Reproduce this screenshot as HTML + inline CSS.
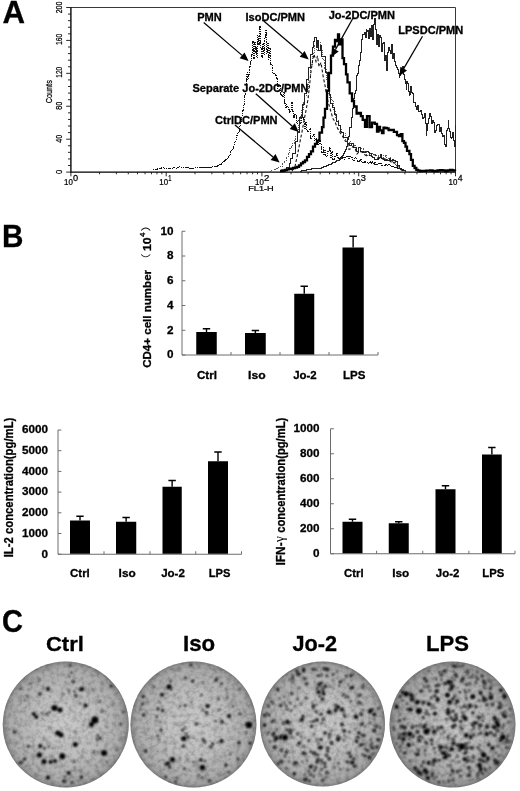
<!DOCTYPE html>
<html lang="en"><head><meta charset="utf-8"><title>Figure</title>
<style>
html,body{margin:0;padding:0;background:#fff;}
body{width:520px;height:791px;overflow:hidden;}
svg{display:block;}
text{font-family:"Liberation Sans", sans-serif;fill:#000;}
.b{font-weight:bold;stroke:#000;stroke-width:0.3px;}
.n{stroke:#000;stroke-width:0.25px;}
.cj{font-family:"Liberation Sans","Noto Sans CJK SC",sans-serif;}
</style></head><body>
<svg width="520" height="791" viewBox="0 0 520 791">
<defs>
<filter id="bl" x="-5%" y="-5%" width="110%" height="110%"><feGaussianBlur stdDeviation="0.8"/></filter>
<filter id="bl2" x="-5%" y="-5%" width="110%" height="110%"><feGaussianBlur stdDeviation="0.8"/></filter>
<filter id="bl3" x="-5%" y="-5%" width="110%" height="110%"><feGaussianBlur stdDeviation="0.8"/></filter>
<filter id="noise0" x="0" y="0" width="100%" height="100%"><feTurbulence type="fractalNoise" baseFrequency="0.22" numOctaves="3" seed="3" result="t"/><feColorMatrix in="t" type="matrix" values="0 0 0 0 0  0 0 0 0 0  0 0 0 0 0  1.4 0 0 0 -0.55"/></filter>
<filter id="noise1" x="0" y="0" width="100%" height="100%"><feTurbulence type="fractalNoise" baseFrequency="0.22" numOctaves="3" seed="11" result="t"/><feColorMatrix in="t" type="matrix" values="0 0 0 0 0  0 0 0 0 0  0 0 0 0 0  1.4 0 0 0 -0.55"/></filter>
<filter id="soft"><feGaussianBlur stdDeviation="0.3"/></filter>
<radialGradient id="wg" cx="50%" cy="50%" r="50%">
<stop offset="0" stop-color="#c9c9c9"/><stop offset="0.5" stop-color="#bebebe"/><stop offset="0.88" stop-color="#ababab"/><stop offset="0.96" stop-color="#9a9a9a"/><stop offset="1" stop-color="#858585"/>
</radialGradient>
<radialGradient id="wg2" cx="50%" cy="50%" r="50%">
<stop offset="0" stop-color="#c4c4c4"/><stop offset="0.5" stop-color="#b8b8b8"/><stop offset="0.88" stop-color="#a4a4a4"/><stop offset="0.96" stop-color="#929292"/><stop offset="1" stop-color="#7e7e7e"/>
</radialGradient>
</defs>
<rect width="520" height="791" fill="#fff"/>

<text class="b" transform="translate(2.42,23.40) scale(1.0021,1)" font-size="31.13" >A</text>
<text class="b" transform="translate(2.10,247.20) scale(0.9577,1)" font-size="30.98" >B</text>
<text class="b" transform="translate(2.04,632.08) scale(0.9121,1)" font-size="31.80" >C</text>
<g id="panelA">
<path d="M70.9,7.5H455.5V172.1" fill="none" stroke="#222" stroke-width="0.9"/>
<path d="M70.9,7.2V172.1H456.0" fill="none" stroke="#000" stroke-width="1.35"/>
<path d="M66.2,172.10H70.9" stroke="#111" stroke-width="0.9"/>
<path d="M68.0,165.52H70.9" stroke="#111" stroke-width="0.9"/>
<path d="M68.0,158.93H70.9" stroke="#111" stroke-width="0.9"/>
<path d="M68.0,152.35H70.9" stroke="#111" stroke-width="0.9"/>
<path d="M68.0,145.76H70.9" stroke="#111" stroke-width="0.9"/>
<path d="M66.2,139.18H70.9" stroke="#111" stroke-width="0.9"/>
<path d="M68.0,132.60H70.9" stroke="#111" stroke-width="0.9"/>
<path d="M68.0,126.01H70.9" stroke="#111" stroke-width="0.9"/>
<path d="M68.0,119.43H70.9" stroke="#111" stroke-width="0.9"/>
<path d="M68.0,112.84H70.9" stroke="#111" stroke-width="0.9"/>
<path d="M66.2,106.26H70.9" stroke="#111" stroke-width="0.9"/>
<path d="M68.0,99.68H70.9" stroke="#111" stroke-width="0.9"/>
<path d="M68.0,93.09H70.9" stroke="#111" stroke-width="0.9"/>
<path d="M68.0,86.51H70.9" stroke="#111" stroke-width="0.9"/>
<path d="M68.0,79.92H70.9" stroke="#111" stroke-width="0.9"/>
<path d="M66.2,73.34H70.9" stroke="#111" stroke-width="0.9"/>
<path d="M68.0,66.76H70.9" stroke="#111" stroke-width="0.9"/>
<path d="M68.0,60.17H70.9" stroke="#111" stroke-width="0.9"/>
<path d="M68.0,53.59H70.9" stroke="#111" stroke-width="0.9"/>
<path d="M68.0,47.00H70.9" stroke="#111" stroke-width="0.9"/>
<path d="M66.2,40.42H70.9" stroke="#111" stroke-width="0.9"/>
<path d="M68.0,33.84H70.9" stroke="#111" stroke-width="0.9"/>
<path d="M68.0,27.25H70.9" stroke="#111" stroke-width="0.9"/>
<path d="M68.0,20.67H70.9" stroke="#111" stroke-width="0.9"/>
<path d="M68.0,14.08H70.9" stroke="#111" stroke-width="0.9"/>
<path d="M66.2,7.50H70.9" stroke="#111" stroke-width="0.9"/>
<path d="M70.90,172.1V176.29999999999998" stroke="#111" stroke-width="0.9"/>
<path d="M99.59,172.1V174.29999999999998" stroke="#111" stroke-width="0.9"/>
<path d="M116.37,172.1V174.29999999999998" stroke="#111" stroke-width="0.9"/>
<path d="M128.28,172.1V174.29999999999998" stroke="#111" stroke-width="0.9"/>
<path d="M137.51,172.1V174.29999999999998" stroke="#111" stroke-width="0.9"/>
<path d="M145.06,172.1V174.29999999999998" stroke="#111" stroke-width="0.9"/>
<path d="M151.44,172.1V174.29999999999998" stroke="#111" stroke-width="0.9"/>
<path d="M156.96,172.1V174.29999999999998" stroke="#111" stroke-width="0.9"/>
<path d="M161.84,172.1V174.29999999999998" stroke="#111" stroke-width="0.9"/>
<path d="M166.20,172.1V176.29999999999998" stroke="#111" stroke-width="0.9"/>
<path d="M195.01,172.1V174.29999999999998" stroke="#111" stroke-width="0.9"/>
<path d="M211.86,172.1V174.29999999999998" stroke="#111" stroke-width="0.9"/>
<path d="M223.82,172.1V174.29999999999998" stroke="#111" stroke-width="0.9"/>
<path d="M233.09,172.1V174.29999999999998" stroke="#111" stroke-width="0.9"/>
<path d="M240.67,172.1V174.29999999999998" stroke="#111" stroke-width="0.9"/>
<path d="M247.08,172.1V174.29999999999998" stroke="#111" stroke-width="0.9"/>
<path d="M252.63,172.1V174.29999999999998" stroke="#111" stroke-width="0.9"/>
<path d="M257.52,172.1V174.29999999999998" stroke="#111" stroke-width="0.9"/>
<path d="M261.90,172.1V176.29999999999998" stroke="#111" stroke-width="0.9"/>
<path d="M291.04,172.1V174.29999999999998" stroke="#111" stroke-width="0.9"/>
<path d="M308.09,172.1V174.29999999999998" stroke="#111" stroke-width="0.9"/>
<path d="M320.18,172.1V174.29999999999998" stroke="#111" stroke-width="0.9"/>
<path d="M329.56,172.1V174.29999999999998" stroke="#111" stroke-width="0.9"/>
<path d="M337.23,172.1V174.29999999999998" stroke="#111" stroke-width="0.9"/>
<path d="M343.71,172.1V174.29999999999998" stroke="#111" stroke-width="0.9"/>
<path d="M349.32,172.1V174.29999999999998" stroke="#111" stroke-width="0.9"/>
<path d="M354.27,172.1V174.29999999999998" stroke="#111" stroke-width="0.9"/>
<path d="M358.70,172.1V176.29999999999998" stroke="#111" stroke-width="0.9"/>
<path d="M387.84,172.1V174.29999999999998" stroke="#111" stroke-width="0.9"/>
<path d="M404.89,172.1V174.29999999999998" stroke="#111" stroke-width="0.9"/>
<path d="M416.98,172.1V174.29999999999998" stroke="#111" stroke-width="0.9"/>
<path d="M426.36,172.1V174.29999999999998" stroke="#111" stroke-width="0.9"/>
<path d="M434.03,172.1V174.29999999999998" stroke="#111" stroke-width="0.9"/>
<path d="M440.51,172.1V174.29999999999998" stroke="#111" stroke-width="0.9"/>
<path d="M446.12,172.1V174.29999999999998" stroke="#111" stroke-width="0.9"/>
<path d="M451.07,172.1V174.29999999999998" stroke="#111" stroke-width="0.9"/>
<path d="M455.5,172.1V176.29999999999998" stroke="#111" stroke-width="0.9"/>
<text class="n" transform="translate(62.40,13.35) rotate(-90) scale(0.7139,1)" font-size="9.75" >200</text>
<text class="n" transform="translate(62.40,45.01) rotate(-90) scale(0.6990,1)" font-size="9.75" >160</text>
<text class="n" transform="translate(62.40,77.69) rotate(-90) scale(0.6726,1)" font-size="9.75" >120</text>
<text class="n" transform="translate(62.40,109.81) rotate(-90) scale(0.7466,1)" font-size="9.75" >80</text>
<text class="n" transform="translate(62.40,142.76) rotate(-90) scale(0.7324,1)" font-size="9.75" >40</text>
<text class="n" transform="translate(62.40,174.00) rotate(-90) scale(0.7730,1)" font-size="9.75" >0</text>
<text class="n" transform="translate(52.10,103.37) rotate(-90) scale(0.7410,1)" font-size="9.89" >Counts</text>
<text class="n" transform="translate(64.01,185.11) scale(0.8894,1)" font-size="8.90" >10</text>
<text class="n" transform="translate(73.03,181.01) scale(1.0515,1)" font-size="8.76" >0</text>
<text class="n" transform="translate(159.31,185.11) scale(0.8894,1)" font-size="8.90" >10</text>
<text class="n" transform="translate(168.27,181.10) scale(0.6410,1)" font-size="9.02" >1</text>
<text class="n" transform="translate(255.01,185.11) scale(0.8894,1)" font-size="8.90" >10</text>
<text class="n" transform="translate(263.92,181.10) scale(1.0879,1)" font-size="8.89" >2</text>
<text class="n" transform="translate(351.81,185.11) scale(0.8894,1)" font-size="8.90" >10</text>
<text class="n" transform="translate(360.85,181.01) scale(1.0570,1)" font-size="8.76" >3</text>
<text class="n" transform="translate(448.61,185.11) scale(0.8894,1)" font-size="8.90" >10</text>
<text class="n" transform="translate(457.80,181.10) scale(0.9661,1)" font-size="9.02" >4</text>
<text class="n" transform="translate(248.24,191.40) scale(1.1696,1)" font-size="7.85" >FL1-H</text>
</g>
<g id="curves" fill="none" stroke-linejoin="miter">
<path d="M153.0,169.9H154.0V169.8H155.0V169.5H156.0V169.1H157.0V168.9H158.0V168.6H159.0V168.4H160.0V168.1H161.0V167.9H162.0V167.9H163.0V168.3H164.0V168.2H165.0V168.4H166.0V168.1H167.0V168.3H168.0V168.5H169.0V168.3H170.0V168.7H171.0V168.5H172.0V168.0H173.0V167.8H174.0V167.9H175.0V168.0H176.0V167.5H177.0V167.3H178.0V167.3H179.0V166.9H180.0V166.8H181.0V167.1H182.0V167.2H183.0V167.1H184.0V167.2H185.0V167.3H186.0V167.6H187.0V167.6H188.0V167.6H189.0V168.1H190.0V168.0H191.0V168.0H192.0V167.6H193.0V168.0H194.0V167.8H195.0V167.3H196.0V167.3H197.0V167.4H198.0V167.3H199.0V167.4H200.0V167.0H201.0V167.3H202.0V167.2H203.0V167.0H204.0V167.3H205.0V167.5H206.0V167.5H207.0V167.4H208.0V167.5H209.0V167.2H210.0V167.4H211.0V167.4H212.0V166.9H213.0V166.5H214.0V166.5H215.0V166.4H216.0V166.1H217.0V165.4H218.0V164.9H219.0V164.5H220.0V164.3H221.0V163.2H222.0V162.3H223.0V161.6H224.0V160.2H225.0V159.3H226.0V159.1H227.0V158.3H228.0V156.4H229.0V154.8H230.0V151.9H231.0V150.3H232.0V149.4H233.0V146.1H234.0V142.8H235.0V141.1H236.0V135.9H237.0V133.4H238.0V131.4H239.0V126.2H240.0V121.9H241.0V117.3H242.0V110.1H243.0V104.9H244.0V95.5H244.8V94.5H245.5V90.2H246.5V72.7H247.5V79.7H248.2V74.2H249.0V66.1H250.0V60.9H251.0V54.5H252.0V41.9H253.0V58.6H254.0V42.5H255.0V52.9H256.0V47.0H256.7V57.9H257.5V35.0H258.3V44.9H259.5V26.3H260.5V48.9H261.5V57.8H262.5V43.7H263.5V54.7H264.5V38.1H265.3V29.7H266.2V53.6H267.0V42.5H268.0V59.1H269.0V48.1H270.0V64.2H271.0V64.3H272.0V72.4H273.0V74.2H274.0V73.1H275.0V75.6H276.0V78.6H277.0V88.1H278.0V85.0H279.0V85.8H280.0V94.5H281.0V95.6H282.0V96.8H283.0V91.9H284.0V103.8H285.0V107.0H286.0V104.8H287.0V106.5H288.0V109.0H289.0V112.9H290.0V111.2H291.0V102.3H292.0V111.6H293.0V117.1H294.0V114.6H295.0V114.0H296.0V123.8H297.0V121.6H298.0V120.5H299.0V123.3H300.0V123.8H301.0V115.6H302.0V116.9H303.0V119.8H304.0V128.0H305.0V122.6H306.0V130.5H307.0V131.5H308.0V131.2H309.0V128.6H310.0V138.7H311.0V137.6H312.0V135.9H313.0V134.0H314.0V140.8H315.0V138.7H316.0V141.9H317.0V139.9H318.0V144.9H319.0V139.4H320.0V143.6H321.0V152.9H322.0V152.9H323.0V147.9H323.9V154.4H324.8V149.6H325.6V156.4H326.5V155.2H327.8V151.2H329.0V148.5H329.9V147.9H330.9V157.3H331.8V151.8H332.7V159.3H333.8V159.8H334.9V156.2H336.0V153.4H337.0V157.4H338.0V158.4H339.0V157.9H340.0V157.7H341.0V157.9H342.0V158.4H343.0V157.6H344.0V159.1H345.0V157.9H346.0V156.6H347.0V156.0H348.0V158.0H349.0V156.1H350.0V157.4H351.0V157.2H352.0V159.7H353.0V160.2H354.0V157.4H355.0V158.5H356.0V159.4H357.0V161.8H358.0V161.3H359.0V160.1H360.0V159.9H361.0V161.5H362.0V162.2H363.0V162.7H364.0V161.1H365.0V162.9H366.0V162.5H367.0V162.1H368.0V163.7H369.0V161.8H370.0V163.3H371.0V161.8H372.0V162.2H373.0V164.2H374.0V162.6H375.0V164.1H376.0V163.9H377.0V164.6H378.0V163.7H379.0V163.8H380.0V163.8H381.0V165.2H382.0V164.8H383.0V165.7H384.0V165.6H385.0V164.3H386.0V165.2H387.0V164.5H388.0V164.6H389.0V164.8H390.0V166.4H391.0V166.4H392.0V166.6H393.0V166.2H394.0V167.0H395.0V167.7H396.0V167.6H397.0V168.2H398.0V168.3H399.0V168.6H400.0V169.3H401.0V170.2H402.0V170.5H403.0V171.0" stroke="#111" stroke-width="1" stroke-dasharray="1.4 0.9" shape-rendering="crispEdges"/>
<path d="M270.0,171.1H271.7V170.5H273.3V169.5H275.0V168.8H276.7V168.4H278.3V167.5H280.0V166.7H282.0V163.5H284.0V161.2H286.0V157.3H288.0V153.2H289.6V148.6H291.1V146.4H292.7V143.1H294.1V139.9H295.6V136.5H297.0V131.8H298.5V123.7H300.0V116.8H301.5V109.6H303.0V102.1H304.8V95.1H306.5V89.9H308.0V77.3H310.0V64.5H312.0V53.6H314.0V45.1H316.0V50.2H318.0V42.9H320.0V50.1H322.0V59.3H324.0V68.5H326.0V80.0H328.0V94.0H329.5V97.7H331.0V100.7H333.0V110.6H335.0V117.2H336.7V120.9H338.3V125.6H340.0V129.1H341.7V132.5H343.3V133.6H345.0V141.4H347.0V144.2H349.0V141.6H350.5V144.8H352.0V143.5H353.9V145.2H355.8V149.2H357.9V147.9H360.0V150.0H361.5V148.8H363.0V152.5H364.5V151.4H366.0V155.9H367.5V155.6H369.0V152.8H370.5V152.9H372.0V154.4H373.5V154.6H375.0V154.7H376.5V155.0H378.0V156.9H379.8V158.0H381.5V155.4H383.2V158.2H385.0V155.0H386.8V159.0H388.5V157.8H390.2V161.3H392.0V161.6H393.8V162.8H395.5V164.5H397.2V166.5H399.0V168.1H400.8V169.2H402.5V170.6" stroke="#555" stroke-width="1" stroke-dasharray="1 1" shape-rendering="crispEdges"/>
<path d="M283.0,171.0H284.8V169.5H286.5V167.9H289.0V163.1H290.9V158.7H292.7V153.1H295.0V141.5H297.0V132.0H299.5V117.3H302.0V104.2H304.0V93.5H306.0V79.9H308.0V67.0H310.0V54.9H312.0V47.4H313.0V41.0H314.5V37.9H316.0V47.1H317.0V40.1H318.5V50.7H320.0V45.5H321.5V56.7H323.0V56.8H325.0V72.3H327.0V87.4H329.0V94.6H330.5V103.1H332.0V107.9H334.0V114.7H336.0V121.1H338.0V125.6H340.0V131.3H341.7V132.4H343.3V137.4H345.0V137.6H347.0V143.5H349.0V145.7H351.0V143.7H353.0V147.7H354.7V147.5H356.3V151.7H358.0V147.6H360.0V151.3H362.0V151.9H363.5V152.8H365.0V151.9H366.5V151.4H368.0V152.5H369.5V153.9H371.0V156.9H372.5V157.3H374.0V159.7H375.5V159.0H377.0V159.1H378.5V157.2H380.0V154.5H381.5V158.5H383.0V159.8H384.5V160.5H386.0V160.2H387.5V160.5H389.0V158.5H390.5V160.4H392.0V159.3H393.7V160.3H395.3V161.9H397.0V165.7H399.0V168.1H401.0V169.8H403.0V170.9H405.0V171.5" stroke="#222" stroke-width="1" shape-rendering="crispEdges"/>
<path d="M292.0,171.0L293.5,168.6L295.0,166.5L296.5,159.4L298.0,152.3L300.0,141.8L302.0,131.8L304.0,120.6L306.0,110.5L308.0,99.4L309.6,85.1L311.0,71.6L312.5,61.3L314.0,54.2L316.0,61.4L317.5,55.9L319.0,66.7L321.0,62.6L323.0,75.6L325.0,85.4L327.0,97.6L328.5,103.3L330.0,108.5L331.5,113.7L333.0,118.8L335.0,121.7L337.0,127.2L339.0,130.8L341.0,134.0L343.0,136.9L345.0,140.8L347.0,141.5L349.0,149.6L351.0,148.7L353.0,146.3L355.0,147.9L357.0,154.0L359.5,151.4L362.0,152.0L364.5,154.6L367.0,156.0L369.0,155.3L371.0,155.7L373.0,154.7L374.8,154.7L376.5,156.3L378.2,159.1L380.0,157.6L381.8,157.9L383.5,159.9L385.2,159.1L387.0,160.1L388.8,160.7L390.5,161.1L392.2,163.4L394.0,162.3L396.5,165.4L399.0,167.7L401.0,169.6L403.0,171.0" stroke="#111" stroke-width="1.1" stroke-dasharray="3 2"/>
<path d="M300.0,171.0H301.0V170.8H302.0V170.7H303.0V170.5H304.0V170.3H305.0V170.2H306.0V169.8H307.0V169.7H308.0V169.6H309.0V169.4H310.0V169.3H311.0V168.9H312.0V168.9H313.0V168.7H314.0V168.7H315.0V168.6H316.0V168.3H317.0V168.2H318.0V168.2H319.0V168.2H320.0V168.1H321.1V167.5H322.2V167.4H323.2V166.9H324.3V166.7H325.4V166.2H326.5V165.8H327.4V165.7H328.4V164.8H329.3V164.3H330.2V164.3H331.2V163.8H332.1V162.8H333.1V162.9H334.0V162.0H335.0V161.7H336.0V160.7H337.0V160.9H338.0V160.2H339.0V159.5H340.0V158.4H341.0V156.8H342.0V155.8H343.0V153.5H344.0V151.4H345.0V149.2H346.0V146.6H347.0V144.2H347.8V139.0H348.5V136.4H349.7V127.7H351.0V117.6H352.3V108.1H353.5V98.0H354.2V93.6H355.0V90.0H356.0V80.4H356.8V75.1H357.5V73.0H358.2V65.0H359.0V60.5H360.0V52.7H361.0V41.0H361.8V39.1H362.5V34.7H363.2V34.2H364.0V32.0H365.0V37.1H366.0V29.4H366.8V31.4H367.5V30.4H368.5V38.5H369.5V28.9H370.5V36.9H371.5V25.7H372.5V39.7H373.5V24.0H374.0V18.6H375.0V29.2H376.0V44.5H377.0V34.6H378.0V46.7H379.0V35.1H380.0V37.9H381.0V51.2H382.0V43.7H383.0V42.2H384.0V60.8H385.0V55.7H386.0V70.8H387.0V58.1H387.8V52.6H388.5V47.6H389.2V50.4H390.0V53.2H391.0V44.3H392.0V58.4H393.0V53.0H394.0V59.3H394.8V61.1H395.5V65.0H396.2V67.1H397.0V69.8H398.0V73.0H399.0V77.2H399.8V75.2H400.5V71.9H401.5V69.3H402.5V66.1H403.2V74.3H404.0V79.1H405.0V83.5H406.0V89.7H406.8V81.5H407.5V83.9H408.2V91.6H409.0V95.0H409.8V94.3H410.5V86.9H411.5V92.5H412.5V93.2H413.2V102.8H414.0V102.4H415.0V106.6H416.0V109.0H417.0V105.8H418.0V111.3H419.0V111.6H420.0V110.9H421.0V111.8H421.8V114.8H422.5V118.3H423.2V117.2H424.0V113.2H425.0V123.0H426.0V135.9H426.8V130.7H427.5V123.0H428.2V118.5H429.0V113.7H430.0V116.2H431.0V122.2H431.8V123.3H432.5V120.9H433.2V122.9H434.0V132.3H435.0V130.2H436.0V127.6H436.8V125.3H437.5V124.1H438.2V124.9H439.0V131.6H440.0V127.2H441.0V127.9H441.8V133.7H442.5V136.5H443.2V135.9H444.0V143.6H444.8V144.2H445.5V146.6H446.5V130.1H447.2V128.4H448.0V120.0H448.8V128.4H449.5V131.7H450.2V137.0H451.0V138.2H451.8V137.9H452.5V132.8H453.5V140.7H454.5V146.9H455.0V125.0" stroke="#222" stroke-width="1" shape-rendering="crispEdges"/>
<path d="M280.0,171.0H282.5V170.5H285.0V170.0H287.0V169.4H289.0V168.9H291.0V168.6H293.0V168.0H295.0V167.6H297.0V166.9H299.0V165.4H301.0V163.3H303.0V162.0H305.0V160.3H307.0V156.9H309.0V154.1H311.0V151.4H313.0V146.6H315.0V143.8H317.0V140.7H319.5V132.7H322.0V127.2H323.5V117.7H325.0V108.8H327.0V90.6H329.0V73.0H331.0V55.7H333.0V46.7H335.0V39.9H336.0V41.0H338.0V34.3H339.0V44.3H340.5V39.5H342.5V58.1H344.0V64.2H346.0V74.3H347.5V82.4H349.7V93.3H352.0V101.0H354.0V106.5H356.6V113.6H359.0V112.9H360.9V116.2H362.7V119.8H365.0V126.9H367.0V116.2H369.6V127.2H372.0V122.6H374.8V123.8H377.0V131.5H378.5V127.0H380.0V130.3H382.0V133.2H383.5V127.7H385.0V128.0H386.8V128.4H388.6V130.2H391.0V129.9H393.8V131.8H395.4V131.8H397.0V135.2H398.9V136.2H400.7V134.1H402.4V141.2H404.0V142.8H405.5V146.6H407.0V150.9H409.4V154.2H411.0V159.8H412.8V165.9H414.6V168.0H416.3V169.9H418.1V170.6H420.0V171.0H422.0V170.9H424.0V170.8H426.0V170.7H428.0V170.7H430.0V170.5H432.5V170.8H435.0V171.0H437.5V170.5H440.0V170.1H442.5V170.5H445.0V171.0H447.5V170.5H450.0V170.0H452.5V170.5H455.0V171.0" stroke="#000" stroke-width="2.3"/>
</g>
<g id="labelsA">
<text class="b" x="197.2" y="20.7" font-size="11.05">PMN</text>
<text class="b" x="245.5" y="20.7" font-size="11.05">IsoDC/PMN</text>
<text class="b" x="328.7" y="18.5" font-size="11.05">Jo-2DC/PMN</text>
<text class="b" x="398.2" y="34" font-size="11.05">LPSDC/PMN</text>
<text class="b" x="192.5" y="92" font-size="11.05">Separate Jo-2DC/PMN</text>
<text class="b" x="215" y="123.75" font-size="11.05">CtrlDC/PMN</text>
<path d="M203.7,22.5L242.1,55.4" stroke="#000" stroke-width="1.25" fill="none"/><path d="M248.6,61.0L239.6,58.3L244.5,52.5Z" fill="#000"/>
<path d="M263.7,21.0L302.2,53.8" stroke="#000" stroke-width="1.25" fill="none"/><path d="M308.7,59.4L299.7,56.7L304.6,50.9Z" fill="#000"/>
<path d="M352.5,19.0L335.4,49.6" stroke="#000" stroke-width="1.25" fill="none"/><path d="M331.2,57.1L332.1,47.7L338.7,51.4Z" fill="#000"/>
<path d="M422.5,36.2L403.7,68.6" stroke="#000" stroke-width="1.25" fill="none"/><path d="M399.4,76.0L400.4,66.7L407.0,70.5Z" fill="#000"/>
<path d="M255.8,93.8L292.3,126.2" stroke="#000" stroke-width="1.25" fill="none"/><path d="M298.7,131.9L289.7,129.0L294.8,123.3Z" fill="#000"/>
<path d="M235.0,125.0L273.0,157.0" stroke="#000" stroke-width="1.25" fill="none"/><path d="M279.6,162.5L270.6,159.9L275.5,154.1Z" fill="#000"/>
</g>
<g id="chart1">
<path d="M182,231.25V355H378" fill="none" stroke="#6c6c6c" stroke-width="1"/>
<path d="M182,231.25h3.4" stroke="#6c6c6c" stroke-width="1"/>
<text class="b" x="173.4" y="234.6" text-anchor="end" font-size="11.7">10</text>
<path d="M182,256h3.4" stroke="#6c6c6c" stroke-width="1"/>
<text class="b" x="173.4" y="259.3" text-anchor="end" font-size="11.7">8</text>
<path d="M182,280.75h3.4" stroke="#6c6c6c" stroke-width="1"/>
<text class="b" x="173.4" y="284.1" text-anchor="end" font-size="11.7">6</text>
<path d="M182,305.5h3.4" stroke="#6c6c6c" stroke-width="1"/>
<text class="b" x="173.4" y="308.8" text-anchor="end" font-size="11.7">4</text>
<path d="M182,330.25h3.4" stroke="#6c6c6c" stroke-width="1"/>
<text class="b" x="173.4" y="333.6" text-anchor="end" font-size="11.7">2</text>
<path d="M182,355h3.4" stroke="#6c6c6c" stroke-width="1"/>
<text class="b" x="173.4" y="358.3" text-anchor="end" font-size="11.7">0</text>
<path d="M231,355v-3" stroke="#6c6c6c" stroke-width="1"/>
<path d="M280,355v-3" stroke="#6c6c6c" stroke-width="1"/>
<path d="M329,355v-3" stroke="#6c6c6c" stroke-width="1"/>
<path d="M378,355v-3" stroke="#6c6c6c" stroke-width="1"/>
<rect x="196.25" y="332" width="20.50" height="22.50" fill="#000"/>
<path d="M206.5,332V328.75M202.8,328.75H210.2" stroke="#000" stroke-width="1.4" fill="none"/>
<rect x="245" y="333" width="20.75" height="21.50" fill="#000"/>
<path d="M255.375,333V330.5M251.675,330.5H259.075" stroke="#000" stroke-width="1.4" fill="none"/>
<rect x="294.25" y="293.75" width="20.00" height="60.75" fill="#000"/>
<path d="M304.25,293.75V286.25M300.55,286.25H307.95" stroke="#000" stroke-width="1.4" fill="none"/>
<rect x="342.5" y="247.5" width="21.25" height="107.00" fill="#000"/>
<path d="M353.125,247.5V236.25M349.425,236.25H356.825" stroke="#000" stroke-width="1.4" fill="none"/>
<text class="b" transform="translate(196.93,378.55) scale(0.9965,1)" font-size="11.70">Ctrl</text>
<text class="b" transform="translate(248.08,378.55) scale(1.0397,1)" font-size="11.70">Iso</text>
<text class="b" transform="translate(293.13,378.55) scale(0.9786,1)" font-size="11.70">Jo-2</text>
<text class="b" transform="translate(343.02,378.55) scale(0.9861,1)" font-size="11.70">LPS</text>
<text class="b" transform="translate(151.08,367.86) rotate(-90) scale(0.9886,1)" font-size="11.70" >CD4+ cell number</text><text class="cj" transform="translate(149.66,266.21) rotate(-90) scale(1.2986,1)" font-size="9.87" >（</text><text class="b" transform="translate(151.10,250.97) rotate(-90) scale(1.1767,1)" font-size="10.46" >10</text><text class="b" transform="translate(145.00,236.71) rotate(-90) scale(0.9456,1)" font-size="7.71" >4</text><text class="cj" transform="translate(149.66,231.61) rotate(-90) scale(1.2986,1)" font-size="9.87" >）</text>
</g>
<g id="chart2">
<path d="M58,430V554.25H241.5" fill="none" stroke="#6c6c6c" stroke-width="1"/>
<path d="M58,430h3.4" stroke="#6c6c6c" stroke-width="1"/>
<text class="b" x="47.9" y="433.3" text-anchor="end" font-size="11.7">6000</text>
<path d="M58,450.7h3.4" stroke="#6c6c6c" stroke-width="1"/>
<text class="b" x="47.9" y="454.0" text-anchor="end" font-size="11.7">5000</text>
<path d="M58,471.4h3.4" stroke="#6c6c6c" stroke-width="1"/>
<text class="b" x="47.9" y="474.7" text-anchor="end" font-size="11.7">4000</text>
<path d="M58,492.1h3.4" stroke="#6c6c6c" stroke-width="1"/>
<text class="b" x="47.9" y="495.4" text-anchor="end" font-size="11.7">3000</text>
<path d="M58,512.8h3.4" stroke="#6c6c6c" stroke-width="1"/>
<text class="b" x="47.9" y="516.1" text-anchor="end" font-size="11.7">2000</text>
<path d="M58,533.5h3.4" stroke="#6c6c6c" stroke-width="1"/>
<text class="b" x="47.9" y="536.8" text-anchor="end" font-size="11.7">1000</text>
<path d="M58,554.25h3.4" stroke="#6c6c6c" stroke-width="1"/>
<text class="b" x="47.9" y="557.5" text-anchor="end" font-size="11.7">0</text>
<path d="M104,554.25v-3" stroke="#6c6c6c" stroke-width="1"/>
<path d="M150,554.25v-3" stroke="#6c6c6c" stroke-width="1"/>
<path d="M195.75,554.25v-3" stroke="#6c6c6c" stroke-width="1"/>
<path d="M241.5,554.25v-3" stroke="#6c6c6c" stroke-width="1"/>
<rect x="70" y="520.5" width="20.00" height="33.25" fill="#000"/>
<path d="M80.0,520.5V516.25M76.3,516.25H83.7" stroke="#000" stroke-width="1.4" fill="none"/>
<rect x="116" y="521.75" width="20.25" height="32.00" fill="#000"/>
<path d="M126.125,521.75V517.5M122.425,517.5H129.825" stroke="#000" stroke-width="1.4" fill="none"/>
<rect x="162.5" y="486.75" width="19.25" height="67.00" fill="#000"/>
<path d="M172.125,486.75V480.5M168.425,480.5H175.825" stroke="#000" stroke-width="1.4" fill="none"/>
<rect x="208" y="461.25" width="20.00" height="92.50" fill="#000"/>
<path d="M218.0,461.25V452M214.3,452H221.7" stroke="#000" stroke-width="1.4" fill="none"/>
<text class="b" transform="translate(70.04,577.05) scale(0.9806,1)" font-size="11.70">Ctrl</text>
<text class="b" transform="translate(118.60,577.05) scale(1.0142,1)" font-size="11.70">Iso</text>
<text class="b" transform="translate(161.13,577.05) scale(0.9872,1)" font-size="11.70">Jo-2</text>
<text class="b" transform="translate(208.75,577.05) scale(0.9535,1)" font-size="11.70">LPS</text>
<text class="b" transform="translate(12.80,557.36) rotate(-90) scale(0.8759,1)" font-size="12.94">IL-2 concentration(pg/mL)</text>
</g>
<g id="chart3">
<path d="M330.5,428.75V553.75H515" fill="none" stroke="#6c6c6c" stroke-width="1"/>
<path d="M330.5,428.75h3.4" stroke="#6c6c6c" stroke-width="1"/>
<text class="b" x="319.6" y="432.1" text-anchor="end" font-size="11.7">1000</text>
<path d="M330.5,453.75h3.4" stroke="#6c6c6c" stroke-width="1"/>
<text class="b" x="319.6" y="457.1" text-anchor="end" font-size="11.7">800</text>
<path d="M330.5,478.75h3.4" stroke="#6c6c6c" stroke-width="1"/>
<text class="b" x="319.6" y="482.1" text-anchor="end" font-size="11.7">600</text>
<path d="M330.5,503.75h3.4" stroke="#6c6c6c" stroke-width="1"/>
<text class="b" x="319.6" y="507.1" text-anchor="end" font-size="11.7">400</text>
<path d="M330.5,528.75h3.4" stroke="#6c6c6c" stroke-width="1"/>
<text class="b" x="319.6" y="532.0" text-anchor="end" font-size="11.7">200</text>
<path d="M330.5,553.75h3.4" stroke="#6c6c6c" stroke-width="1"/>
<text class="b" x="319.6" y="557.0" text-anchor="end" font-size="11.7">0</text>
<path d="M376.6,553.75v-3" stroke="#6c6c6c" stroke-width="1"/>
<path d="M422.75,553.75v-3" stroke="#6c6c6c" stroke-width="1"/>
<path d="M468.9,553.75v-3" stroke="#6c6c6c" stroke-width="1"/>
<path d="M515,553.75v-3" stroke="#6c6c6c" stroke-width="1"/>
<rect x="342.5" y="521.75" width="20.00" height="31.50" fill="#000"/>
<path d="M352.5,521.75V519.25M348.8,519.25H356.2" stroke="#000" stroke-width="1.4" fill="none"/>
<rect x="388.75" y="523.25" width="20.00" height="30.00" fill="#000"/>
<path d="M398.75,523.25V521.75M395.05,521.75H402.45" stroke="#000" stroke-width="1.4" fill="none"/>
<rect x="435.5" y="489.25" width="20.00" height="64.00" fill="#000"/>
<path d="M445.5,489.25V485.75M441.8,485.75H449.2" stroke="#000" stroke-width="1.4" fill="none"/>
<rect x="482" y="454.5" width="19.75" height="98.75" fill="#000"/>
<path d="M491.875,454.5V447.5M488.175,447.5H495.575" stroke="#000" stroke-width="1.4" fill="none"/>
<text class="b" transform="translate(344.05,577.05) scale(0.9700,1)" font-size="11.70">Ctrl</text>
<text class="b" transform="translate(392.20,577.05) scale(1.0078,1)" font-size="11.70">Iso</text>
<text class="b" transform="translate(435.83,577.05) scale(0.9744,1)" font-size="11.70">Jo-2</text>
<text class="b" transform="translate(482.24,577.05) scale(0.9675,1)" font-size="11.70">LPS</text>
<text class="b" transform="translate(285.30,565.50) rotate(-90) scale(0.9395,1)" font-size="12.65">IFN-</text><text transform="translate(284.0,541.9) rotate(-90) scale(0.95,1)" font-size="14" style="font-family:'Liberation Serif',serif">γ</text><text class="b" transform="translate(285.30,532.85) rotate(-90) scale(0.8865,1)" font-size="12.65">concentration(pg/mL)</text>
</g>
<g id="panelC">
<text class="b" transform="translate(45.92,650.79) scale(1.0537,1)" font-size="20.95" >Ctrl</text>
<text class="b" transform="translate(183.00,650.88) scale(1.0138,1)" font-size="21.94" >Iso</text>
<text class="b" transform="translate(292.58,650.88) scale(1.0011,1)" font-size="21.63" >Jo-2</text>
<text class="b" transform="translate(426.11,650.88) scale(1.0085,1)" font-size="21.91" >LPS</text>
<clipPath id="cp0"><circle cx="65.75" cy="724.5" r="63"/></clipPath>
<circle cx="65.75" cy="724.5" r="63" fill="url(#wg)"/>
<g clip-path="url(#cp0)">
<rect x="2.75" y="661.5" width="126" height="126" filter="url(#noise0)" opacity="0.3"/>
<g filter="url(#bl2)">
<circle cx="22.1" cy="738.0" r="1.24" fill="#7d7d7d"/>
<circle cx="11.8" cy="741.3" r="0.65" fill="#808080"/>
<circle cx="18.4" cy="731.8" r="0.65" fill="#7c7c7c"/>
<circle cx="59.7" cy="741.9" r="1.15" fill="#8c8c8c"/>
<circle cx="34.4" cy="689.2" r="0.82" fill="#7c7c7c"/>
<circle cx="38.5" cy="685.0" r="0.63" fill="#606060"/>
<circle cx="73.3" cy="711.1" r="0.53" fill="#6f6f6f"/>
<circle cx="22.1" cy="692.9" r="0.76" fill="#858585"/>
<circle cx="89.9" cy="687.7" r="1.01" fill="#7f7f7f"/>
<circle cx="83.6" cy="725.0" r="1.02" fill="#7a7a7a"/>
<circle cx="126.7" cy="723.6" r="1.17" fill="#8d8d8d"/>
<circle cx="64.4" cy="777.7" r="0.91" fill="#616161"/>
<circle cx="114.1" cy="747.3" r="0.82" fill="#727272"/>
<circle cx="20.5" cy="763.6" r="1.18" fill="#606060"/>
<circle cx="79.1" cy="781.8" r="0.54" fill="#787878"/>
<circle cx="104.0" cy="719.8" r="0.56" fill="#888888"/>
<circle cx="81.7" cy="772.1" r="0.77" fill="#737373"/>
<circle cx="36.0" cy="776.6" r="1.11" fill="#676767"/>
<circle cx="99.8" cy="763.0" r="0.51" fill="#7d7d7d"/>
<circle cx="73.3" cy="699.9" r="0.95" fill="#7c7c7c"/>
<circle cx="5.2" cy="721.1" r="1.12" fill="#7a7a7a"/>
<circle cx="52.8" cy="708.1" r="0.84" fill="#6d6d6d"/>
<circle cx="122.6" cy="724.7" r="1.28" fill="#858585"/>
<circle cx="46.6" cy="778.7" r="0.67" fill="#797979"/>
<circle cx="113.1" cy="723.3" r="0.96" fill="#626262"/>
<circle cx="93.9" cy="722.6" r="0.71" fill="#878787"/>
<circle cx="49.9" cy="753.8" r="0.56" fill="#656565"/>
<circle cx="78.3" cy="771.6" r="0.51" fill="#777777"/>
<circle cx="37.3" cy="754.2" r="1.27" fill="#7e7e7e"/>
<circle cx="76.9" cy="704.9" r="0.81" fill="#888888"/>
<circle cx="98.7" cy="772.5" r="1.15" fill="#6f6f6f"/>
<circle cx="62.0" cy="700.5" r="1.00" fill="#838383"/>
<circle cx="85.4" cy="780.7" r="1.21" fill="#868686"/>
<circle cx="77.5" cy="730.8" r="0.59" fill="#808080"/>
<circle cx="94.8" cy="717.6" r="1.06" fill="#707070"/>
<circle cx="14.7" cy="752.2" r="0.89" fill="#818181"/>
<circle cx="89.2" cy="770.8" r="0.56" fill="#6e6e6e"/>
<circle cx="16.8" cy="730.9" r="0.99" fill="#646464"/>
<circle cx="54.7" cy="782.0" r="0.66" fill="#616161"/>
<circle cx="101.3" cy="741.0" r="0.70" fill="#626262"/>
<circle cx="82.3" cy="757.7" r="0.96" fill="#686868"/>
<circle cx="84.8" cy="736.9" r="0.86" fill="#757575"/>
<circle cx="37.7" cy="682.1" r="0.97" fill="#686868"/>
<circle cx="16.1" cy="693.1" r="0.88" fill="#767676"/>
<circle cx="47.6" cy="667.4" r="0.52" fill="#888888"/>
<circle cx="79.9" cy="731.7" r="0.75" fill="#686868"/>
<circle cx="82.5" cy="724.4" r="0.94" fill="#8f8f8f"/>
<circle cx="122.6" cy="740.8" r="1.09" fill="#686868"/>
<circle cx="81.4" cy="668.2" r="0.78" fill="#8b8b8b"/>
<circle cx="49.0" cy="727.3" r="1.19" fill="#616161"/>
<circle cx="96.0" cy="689.5" r="1.00" fill="#787878"/>
<circle cx="60.8" cy="729.2" r="0.56" fill="#656565"/>
<circle cx="26.8" cy="677.7" r="1.20" fill="#8e8e8e"/>
<circle cx="37.2" cy="776.2" r="1.06" fill="#7d7d7d"/>
<circle cx="13.7" cy="744.9" r="0.57" fill="#909090"/>
<circle cx="31.9" cy="721.4" r="0.57" fill="#616161"/>
<circle cx="72.1" cy="775.2" r="0.90" fill="#878787"/>
<circle cx="42.9" cy="688.5" r="1.22" fill="#777777"/>
<circle cx="49.9" cy="772.3" r="0.66" fill="#6a6a6a"/>
<circle cx="66.6" cy="688.7" r="1.24" fill="#7f7f7f"/>
<circle cx="92.9" cy="702.5" r="1.03" fill="#6c6c6c"/>
<circle cx="29.3" cy="683.6" r="1.10" fill="#6c6c6c"/>
<circle cx="93.4" cy="698.6" r="0.97" fill="#747474"/>
<circle cx="71.3" cy="746.2" r="0.78" fill="#626262"/>
<circle cx="51.4" cy="666.7" r="0.72" fill="#6a6a6a"/>
<circle cx="97.6" cy="751.8" r="1.24" fill="#7a7a7a"/>
<circle cx="33.1" cy="754.1" r="1.04" fill="#8d8d8d"/>
<circle cx="97.9" cy="673.2" r="0.86" fill="#646464"/>
<circle cx="81.0" cy="696.1" r="0.99" fill="#8b8b8b"/>
<circle cx="53.9" cy="679.9" r="0.75" fill="#848484"/>
<circle cx="88.1" cy="727.2" r="0.86" fill="#616161"/>
<circle cx="69.5" cy="693.2" r="1.12" fill="#636363"/>
<circle cx="86.4" cy="722.4" r="0.59" fill="#828282"/>
<circle cx="34.9" cy="679.1" r="1.27" fill="#8b8b8b"/>
<circle cx="83.5" cy="777.0" r="0.70" fill="#8d8d8d"/>
<circle cx="107.6" cy="727.3" r="1.07" fill="#6b6b6b"/>
<circle cx="73.7" cy="777.8" r="0.93" fill="#818181"/>
<circle cx="4.7" cy="724.3" r="0.63" fill="#8c8c8c"/>
<circle cx="80.8" cy="714.5" r="1.25" fill="#8e8e8e"/>
<circle cx="34.5" cy="751.0" r="0.66" fill="#606060"/>
<circle cx="32.8" cy="756.7" r="1.20" fill="#757575"/>
<circle cx="17.7" cy="735.6" r="0.66" fill="#8e8e8e"/>
<circle cx="102.2" cy="683.8" r="1.24" fill="#676767"/>
<circle cx="79.0" cy="780.9" r="1.28" fill="#737373"/>
<circle cx="12.9" cy="712.0" r="0.76" fill="#8d8d8d"/>
<circle cx="88.0" cy="696.1" r="0.57" fill="#7c7c7c"/>
<circle cx="44.1" cy="757.7" r="0.72" fill="#616161"/>
<circle cx="77.0" cy="780.3" r="0.84" fill="#626262"/>
<circle cx="82.2" cy="755.8" r="1.13" fill="#686868"/>
<circle cx="5.7" cy="735.7" r="1.22" fill="#818181"/>
<circle cx="92.9" cy="681.7" r="1.26" fill="#7f7f7f"/>
<circle cx="21.1" cy="700.4" r="1.11" fill="#7c7c7c"/>
<circle cx="33.3" cy="719.0" r="1.08" fill="#888888"/>
<circle cx="88.2" cy="762.1" r="1.23" fill="#707070"/>
<circle cx="51.5" cy="759.4" r="1.18" fill="#878787"/>
<circle cx="80.4" cy="778.9" r="1.27" fill="#818181"/>
<circle cx="59.6" cy="767.2" r="0.83" fill="#676767"/>
<circle cx="18.2" cy="723.6" r="0.52" fill="#626262"/>
<circle cx="27.3" cy="720.6" r="1.14" fill="#848484"/>
<circle cx="79.2" cy="737.4" r="0.63" fill="#828282"/>
<circle cx="9.1" cy="739.5" r="1.14" fill="#797979"/>
<circle cx="60.7" cy="766.2" r="0.60" fill="#7b7b7b"/>
<circle cx="113.8" cy="690.0" r="1.24" fill="#818181"/>
<circle cx="54.8" cy="748.9" r="0.99" fill="#707070"/>
<circle cx="102.8" cy="763.7" r="0.52" fill="#6c6c6c"/>
<circle cx="69.5" cy="730.0" r="0.73" fill="#8e8e8e"/>
<circle cx="36.2" cy="762.4" r="0.58" fill="#8e8e8e"/>
<circle cx="16.7" cy="696.6" r="1.00" fill="#8d8d8d"/>
<circle cx="80.1" cy="766.6" r="0.85" fill="#787878"/>
<circle cx="28.5" cy="683.3" r="0.99" fill="#828282"/>
<circle cx="79.5" cy="771.1" r="1.01" fill="#818181"/>
<circle cx="75.2" cy="768.5" r="0.97" fill="#686868"/>
<circle cx="71.5" cy="776.8" r="1.15" fill="#6b6b6b"/>
<circle cx="52.0" cy="755.9" r="1.24" fill="#6d6d6d"/>
<circle cx="70.5" cy="698.0" r="0.58" fill="#6f6f6f"/>
<circle cx="78.0" cy="737.9" r="0.81" fill="#7b7b7b"/>
<circle cx="85.3" cy="690.0" r="1.13" fill="#686868"/>
<circle cx="80.5" cy="770.6" r="1.14" fill="#666666"/>
<circle cx="81.1" cy="772.6" r="1.23" fill="#777777"/>
<circle cx="98.3" cy="753.3" r="1.11" fill="#808080"/>
</g><g filter="url(#bl3)">
<circle cx="120.4" cy="724.0" r="1.36" fill="#1e1e1e"/>
<circle cx="74.8" cy="731.7" r="1.12" fill="#202020"/>
<circle cx="100.1" cy="701.2" r="1.00" fill="#070707"/>
<circle cx="81.4" cy="777.1" r="1.68" fill="#060606"/>
<circle cx="46.5" cy="714.0" r="1.22" fill="#040404"/>
<circle cx="68.9" cy="690.4" r="1.07" fill="#202020"/>
<circle cx="49.0" cy="746.2" r="1.04" fill="#020202"/>
<circle cx="80.0" cy="703.4" r="1.07" fill="#171717"/>
<circle cx="43.9" cy="739.3" r="1.00" fill="#202020"/>
<circle cx="74.7" cy="691.6" r="1.00" fill="#191919"/>
<circle cx="42.1" cy="713.4" r="1.14" fill="#151515"/>
<circle cx="76.0" cy="695.9" r="1.53" fill="#0a0a0a"/>
<circle cx="80.8" cy="689.5" r="1.50" fill="#171717"/>
<circle cx="71.4" cy="672.5" r="1.05" fill="#0b0b0b"/>
<circle cx="97.4" cy="739.5" r="1.07" fill="#000000"/>
<circle cx="111.2" cy="686.0" r="1.51" fill="#030303"/>
<circle cx="72.3" cy="782.3" r="1.21" fill="#151515"/>
<circle cx="73.8" cy="761.8" r="1.00" fill="#040404"/>
<circle cx="19.7" cy="762.8" r="1.19" fill="#070707"/>
<circle cx="70.1" cy="665.4" r="1.00" fill="#060606"/>
<circle cx="63.6" cy="694.3" r="1.05" fill="#030303"/>
<circle cx="69.2" cy="676.4" r="1.00" fill="#101010"/>
<circle cx="65.4" cy="781.5" r="1.12" fill="#202020"/>
<circle cx="28.5" cy="746.3" r="1.42" fill="#060606"/>
<circle cx="30.9" cy="683.4" r="1.00" fill="#020202"/>
<circle cx="21.9" cy="762.5" r="1.04" fill="#0a0a0a"/>
<circle cx="92.9" cy="689.8" r="1.15" fill="#1b1b1b"/>
<circle cx="102.3" cy="711.4" r="1.10" fill="#131313"/>
<circle cx="44.5" cy="748.4" r="1.20" fill="#121212"/>
<circle cx="39.0" cy="680.2" r="1.00" fill="#0f0f0f"/>
<circle cx="24.9" cy="700.1" r="1.05" fill="#181818"/>
<circle cx="97.5" cy="735.4" r="1.04" fill="#141414"/>
<circle cx="116.7" cy="749.9" r="1.06" fill="#1e1e1e"/>
<circle cx="65.4" cy="776.5" r="1.00" fill="#060606"/>
<circle cx="112.7" cy="705.0" r="1.07" fill="#0f0f0f"/>
<circle cx="49.6" cy="712.2" r="1.17" fill="#1d1d1d"/>
<circle cx="106.7" cy="762.0" r="1.03" fill="#090909"/>
<circle cx="94.0" cy="752.5" r="1.21" fill="#1d1d1d"/>
<circle cx="27.2" cy="696.1" r="1.22" fill="#171717"/>
<circle cx="73.4" cy="681.6" r="1.70" fill="#121212"/>
</g><g filter="url(#bl)">
<circle cx="14.3" cy="732.0" r="1.50" fill="#000"/>
<circle cx="33.8" cy="714.0" r="2.00" fill="#000"/>
<circle cx="36.4" cy="717.0" r="2.00" fill="#000"/>
<circle cx="54.5" cy="708.0" r="3.00" fill="#000"/>
<circle cx="60.0" cy="710.0" r="2.50" fill="#000"/>
<circle cx="48.0" cy="689.0" r="2.00" fill="#000"/>
<circle cx="82.0" cy="689.0" r="2.00" fill="#000"/>
<circle cx="85.7" cy="705.6" r="2.00" fill="#000"/>
<circle cx="94.8" cy="720.0" r="3.50" fill="#000"/>
<circle cx="91.4" cy="724.6" r="2.50" fill="#000"/>
<circle cx="57.7" cy="733.0" r="2.50" fill="#000"/>
<circle cx="61.0" cy="735.0" r="2.50" fill="#000"/>
<circle cx="75.3" cy="744.6" r="2.50" fill="#000"/>
<circle cx="40.2" cy="746.0" r="2.00" fill="#000"/>
<circle cx="39.5" cy="755.0" r="2.50" fill="#000"/>
<circle cx="44.0" cy="761.5" r="2.50" fill="#000"/>
<circle cx="50.6" cy="762.0" r="2.00" fill="#000"/>
<circle cx="55.0" cy="761.0" r="2.00" fill="#000"/>
<circle cx="62.3" cy="756.3" r="3.00" fill="#000"/>
<circle cx="104.0" cy="753.0" r="3.00" fill="#000"/>
<circle cx="48.0" cy="777.6" r="2.00" fill="#000"/>
<circle cx="68.8" cy="773.0" r="2.00" fill="#000"/>
<circle cx="63.6" cy="781.0" r="1.50" fill="#000"/>
<circle cx="24.7" cy="759.0" r="1.50" fill="#000"/>
<circle cx="100.0" cy="738.0" r="1.50" fill="#000"/>
<circle cx="20.8" cy="688.8" r="1.00" fill="#000"/>
<circle cx="123.0" cy="712.0" r="1.00" fill="#000"/>
<circle cx="40.0" cy="694.0" r="1.50" fill="#000"/>
</g>
<circle cx="65.75" cy="724.5" r="62.4" fill="none" stroke="#707070" stroke-width="1.4" filter="url(#bl2)" opacity="0.55"/>
</g>
<clipPath id="cp1"><circle cx="193.5" cy="724.5" r="63"/></clipPath>
<circle cx="193.5" cy="724.5" r="63" fill="url(#wg)"/>
<g clip-path="url(#cp1)">
<rect x="130.5" y="661.5" width="126" height="126" filter="url(#noise1)" opacity="0.3"/>
<g filter="url(#bl2)">
<circle cx="144.6" cy="732.4" r="1.03" fill="#696969"/>
<circle cx="148.6" cy="765.8" r="0.89" fill="#898989"/>
<circle cx="212.3" cy="677.3" r="0.98" fill="#838383"/>
<circle cx="241.8" cy="725.0" r="1.28" fill="#777777"/>
<circle cx="224.0" cy="774.1" r="0.55" fill="#6c6c6c"/>
<circle cx="238.7" cy="747.4" r="0.77" fill="#797979"/>
<circle cx="198.9" cy="707.2" r="1.24" fill="#8a8a8a"/>
<circle cx="175.1" cy="723.5" r="1.29" fill="#7c7c7c"/>
<circle cx="223.7" cy="750.3" r="0.61" fill="#747474"/>
<circle cx="227.2" cy="693.7" r="1.28" fill="#636363"/>
<circle cx="152.6" cy="709.7" r="0.57" fill="#868686"/>
<circle cx="152.3" cy="747.5" r="0.88" fill="#787878"/>
<circle cx="146.2" cy="712.0" r="0.57" fill="#6c6c6c"/>
<circle cx="242.7" cy="717.1" r="0.79" fill="#777777"/>
<circle cx="218.8" cy="696.2" r="0.75" fill="#707070"/>
<circle cx="197.0" cy="761.2" r="0.91" fill="#909090"/>
<circle cx="183.2" cy="724.5" r="1.16" fill="#7b7b7b"/>
<circle cx="203.1" cy="726.5" r="1.04" fill="#626262"/>
<circle cx="152.5" cy="759.2" r="0.58" fill="#838383"/>
<circle cx="196.6" cy="741.3" r="0.72" fill="#7b7b7b"/>
<circle cx="187.5" cy="759.9" r="1.01" fill="#636363"/>
<circle cx="156.6" cy="721.2" r="0.77" fill="#7d7d7d"/>
<circle cx="134.3" cy="733.4" r="0.88" fill="#6a6a6a"/>
<circle cx="149.3" cy="734.5" r="0.65" fill="#8f8f8f"/>
<circle cx="202.5" cy="771.3" r="1.26" fill="#757575"/>
<circle cx="216.8" cy="773.7" r="0.90" fill="#6f6f6f"/>
<circle cx="149.1" cy="683.3" r="1.30" fill="#808080"/>
<circle cx="226.6" cy="773.1" r="1.21" fill="#8a8a8a"/>
<circle cx="217.6" cy="682.0" r="0.68" fill="#818181"/>
<circle cx="150.7" cy="723.9" r="0.78" fill="#8b8b8b"/>
<circle cx="248.1" cy="705.5" r="0.63" fill="#727272"/>
<circle cx="183.8" cy="715.7" r="0.76" fill="#808080"/>
<circle cx="167.6" cy="693.0" r="1.13" fill="#8e8e8e"/>
<circle cx="186.8" cy="754.6" r="1.05" fill="#8c8c8c"/>
<circle cx="238.5" cy="732.3" r="0.71" fill="#686868"/>
<circle cx="195.7" cy="764.8" r="1.28" fill="#838383"/>
<circle cx="146.6" cy="702.4" r="1.25" fill="#707070"/>
<circle cx="196.1" cy="685.1" r="0.97" fill="#797979"/>
<circle cx="204.9" cy="679.4" r="0.78" fill="#777777"/>
<circle cx="169.0" cy="695.6" r="0.63" fill="#8c8c8c"/>
<circle cx="179.1" cy="668.2" r="1.14" fill="#646464"/>
<circle cx="231.3" cy="700.7" r="1.13" fill="#787878"/>
<circle cx="207.1" cy="674.8" r="0.65" fill="#717171"/>
<circle cx="239.9" cy="704.1" r="0.93" fill="#878787"/>
<circle cx="172.0" cy="706.4" r="0.98" fill="#8b8b8b"/>
<circle cx="169.7" cy="743.2" r="0.83" fill="#747474"/>
<circle cx="224.1" cy="741.9" r="1.05" fill="#8e8e8e"/>
<circle cx="174.0" cy="771.6" r="1.11" fill="#8a8a8a"/>
<circle cx="167.2" cy="693.9" r="0.64" fill="#6d6d6d"/>
<circle cx="152.9" cy="727.6" r="0.64" fill="#8a8a8a"/>
<circle cx="159.2" cy="701.5" r="1.21" fill="#666666"/>
<circle cx="198.5" cy="722.6" r="0.79" fill="#717171"/>
<circle cx="223.0" cy="683.3" r="0.74" fill="#818181"/>
<circle cx="231.3" cy="703.4" r="1.06" fill="#6a6a6a"/>
<circle cx="155.4" cy="724.3" r="0.90" fill="#8d8d8d"/>
<circle cx="193.5" cy="765.9" r="1.18" fill="#6e6e6e"/>
<circle cx="150.8" cy="752.5" r="1.13" fill="#818181"/>
<circle cx="170.5" cy="680.4" r="1.28" fill="#838383"/>
<circle cx="162.6" cy="709.9" r="1.11" fill="#616161"/>
<circle cx="174.5" cy="763.3" r="0.79" fill="#737373"/>
<circle cx="213.8" cy="761.5" r="1.14" fill="#686868"/>
<circle cx="193.3" cy="737.6" r="1.14" fill="#727272"/>
<circle cx="152.9" cy="750.8" r="0.73" fill="#868686"/>
<circle cx="184.2" cy="744.1" r="1.01" fill="#8a8a8a"/>
<circle cx="151.5" cy="690.4" r="0.83" fill="#878787"/>
<circle cx="174.1" cy="694.6" r="1.11" fill="#7f7f7f"/>
<circle cx="164.6" cy="750.1" r="1.15" fill="#6a6a6a"/>
<circle cx="207.0" cy="670.3" r="0.59" fill="#717171"/>
<circle cx="179.6" cy="722.5" r="1.17" fill="#8f8f8f"/>
<circle cx="209.3" cy="691.5" r="1.09" fill="#737373"/>
<circle cx="200.9" cy="668.3" r="0.75" fill="#6d6d6d"/>
<circle cx="193.1" cy="667.8" r="0.94" fill="#626262"/>
<circle cx="218.7" cy="726.6" r="0.63" fill="#8d8d8d"/>
<circle cx="214.7" cy="669.6" r="1.29" fill="#737373"/>
<circle cx="184.9" cy="721.9" r="1.23" fill="#777777"/>
<circle cx="175.7" cy="683.4" r="0.86" fill="#818181"/>
<circle cx="215.2" cy="725.3" r="0.81" fill="#7f7f7f"/>
<circle cx="166.0" cy="693.1" r="1.01" fill="#787878"/>
<circle cx="228.3" cy="678.4" r="0.52" fill="#717171"/>
<circle cx="217.4" cy="727.6" r="1.11" fill="#777777"/>
<circle cx="171.6" cy="668.9" r="1.05" fill="#7b7b7b"/>
<circle cx="136.3" cy="706.4" r="0.80" fill="#646464"/>
<circle cx="205.2" cy="705.9" r="0.55" fill="#666666"/>
<circle cx="144.9" cy="750.0" r="1.17" fill="#6f6f6f"/>
<circle cx="243.2" cy="734.3" r="0.95" fill="#8e8e8e"/>
<circle cx="244.7" cy="711.5" r="1.26" fill="#616161"/>
<circle cx="154.5" cy="698.6" r="1.14" fill="#888888"/>
<circle cx="207.8" cy="775.7" r="0.84" fill="#828282"/>
<circle cx="220.0" cy="676.7" r="0.81" fill="#898989"/>
<circle cx="146.8" cy="687.4" r="1.29" fill="#909090"/>
<circle cx="169.6" cy="668.7" r="0.61" fill="#676767"/>
<circle cx="235.5" cy="702.6" r="1.04" fill="#606060"/>
<circle cx="200.4" cy="744.8" r="0.85" fill="#757575"/>
<circle cx="217.9" cy="677.2" r="0.77" fill="#787878"/>
<circle cx="199.0" cy="667.4" r="1.15" fill="#757575"/>
<circle cx="209.9" cy="769.9" r="0.93" fill="#777777"/>
<circle cx="226.3" cy="738.5" r="0.71" fill="#848484"/>
<circle cx="224.9" cy="756.6" r="1.26" fill="#8f8f8f"/>
<circle cx="187.0" cy="759.7" r="1.29" fill="#676767"/>
<circle cx="189.6" cy="676.1" r="0.64" fill="#838383"/>
<circle cx="220.3" cy="764.5" r="0.72" fill="#757575"/>
<circle cx="180.1" cy="758.4" r="1.30" fill="#757575"/>
<circle cx="237.8" cy="708.1" r="0.56" fill="#878787"/>
<circle cx="171.1" cy="740.8" r="0.76" fill="#777777"/>
<circle cx="151.3" cy="686.8" r="0.61" fill="#757575"/>
<circle cx="169.0" cy="767.6" r="0.82" fill="#818181"/>
<circle cx="172.3" cy="763.9" r="1.17" fill="#818181"/>
<circle cx="218.1" cy="742.6" r="1.15" fill="#656565"/>
<circle cx="181.8" cy="702.0" r="0.85" fill="#727272"/>
<circle cx="239.7" cy="745.3" r="0.65" fill="#717171"/>
<circle cx="162.0" cy="687.3" r="0.97" fill="#7e7e7e"/>
<circle cx="192.1" cy="690.5" r="0.61" fill="#7e7e7e"/>
<circle cx="161.1" cy="750.7" r="0.79" fill="#8d8d8d"/>
<circle cx="215.7" cy="709.0" r="0.97" fill="#8e8e8e"/>
<circle cx="144.1" cy="729.2" r="1.07" fill="#8d8d8d"/>
<circle cx="172.9" cy="757.1" r="0.61" fill="#646464"/>
<circle cx="235.4" cy="690.0" r="0.81" fill="#727272"/>
<circle cx="213.0" cy="710.8" r="1.17" fill="#7a7a7a"/>
<circle cx="170.6" cy="712.4" r="0.84" fill="#636363"/>
<circle cx="219.3" cy="756.6" r="0.92" fill="#6f6f6f"/>
</g><g filter="url(#bl3)">
<circle cx="204.9" cy="742.0" r="1.40" fill="#181818"/>
<circle cx="160.4" cy="722.0" r="1.00" fill="#0c0c0c"/>
<circle cx="210.9" cy="747.2" r="1.45" fill="#101010"/>
<circle cx="233.1" cy="706.4" r="1.03" fill="#0c0c0c"/>
<circle cx="212.7" cy="743.9" r="1.42" fill="#060606"/>
<circle cx="201.4" cy="695.0" r="1.11" fill="#1c1c1c"/>
<circle cx="230.0" cy="754.2" r="1.00" fill="#030303"/>
<circle cx="185.4" cy="727.9" r="1.08" fill="#161616"/>
<circle cx="203.0" cy="709.9" r="1.11" fill="#1d1d1d"/>
<circle cx="142.6" cy="703.7" r="1.50" fill="#191919"/>
<circle cx="140.5" cy="709.5" r="1.04" fill="#090909"/>
<circle cx="246.3" cy="732.6" r="1.10" fill="#111111"/>
<circle cx="221.5" cy="722.8" r="1.05" fill="#202020"/>
<circle cx="192.6" cy="681.2" r="1.33" fill="#020202"/>
<circle cx="226.4" cy="689.1" r="1.03" fill="#121212"/>
<circle cx="165.9" cy="764.3" r="1.39" fill="#070707"/>
<circle cx="215.7" cy="721.1" r="1.15" fill="#080808"/>
<circle cx="203.2" cy="683.1" r="1.00" fill="#161616"/>
<circle cx="221.5" cy="720.6" r="1.05" fill="#090909"/>
<circle cx="184.3" cy="768.7" r="1.24" fill="#0a0a0a"/>
<circle cx="216.7" cy="678.1" r="1.02" fill="#1b1b1b"/>
<circle cx="209.4" cy="780.8" r="1.57" fill="#161616"/>
<circle cx="182.0" cy="738.8" r="1.08" fill="#1a1a1a"/>
<circle cx="186.1" cy="733.9" r="1.02" fill="#000000"/>
<circle cx="176.7" cy="777.8" r="1.02" fill="#030303"/>
<circle cx="219.0" cy="710.1" r="1.11" fill="#0d0d0d"/>
<circle cx="206.7" cy="712.8" r="1.62" fill="#0b0b0b"/>
<circle cx="190.9" cy="664.9" r="1.67" fill="#151515"/>
<circle cx="246.3" cy="724.0" r="1.06" fill="#171717"/>
<circle cx="188.0" cy="736.9" r="1.62" fill="#141414"/>
<circle cx="171.3" cy="689.4" r="1.01" fill="#0e0e0e"/>
<circle cx="154.1" cy="687.0" r="1.21" fill="#1f1f1f"/>
<circle cx="239.4" cy="689.4" r="1.10" fill="#1d1d1d"/>
<circle cx="157.0" cy="716.6" r="1.03" fill="#0c0c0c"/>
<circle cx="221.4" cy="683.9" r="1.14" fill="#0a0a0a"/>
<circle cx="143.7" cy="715.0" r="1.67" fill="#070707"/>
<circle cx="205.0" cy="761.1" r="1.00" fill="#040404"/>
<circle cx="165.5" cy="777.0" r="1.22" fill="#050505"/>
<circle cx="159.2" cy="739.6" r="1.01" fill="#0b0b0b"/>
<circle cx="180.2" cy="706.1" r="1.11" fill="#0a0a0a"/>
<circle cx="185.6" cy="677.8" r="1.20" fill="#020202"/>
<circle cx="198.9" cy="775.4" r="1.08" fill="#080808"/>
<circle cx="203.1" cy="739.5" r="1.58" fill="#0e0e0e"/>
<circle cx="228.7" cy="772.1" r="1.09" fill="#090909"/>
<circle cx="227.3" cy="697.8" r="1.15" fill="#101010"/>
<circle cx="193.5" cy="762.0" r="1.12" fill="#010101"/>
<circle cx="182.6" cy="729.9" r="1.40" fill="#080808"/>
<circle cx="239.8" cy="713.9" r="1.32" fill="#0b0b0b"/>
<circle cx="170.5" cy="681.2" r="1.00" fill="#070707"/>
<circle cx="191.3" cy="702.2" r="1.02" fill="#0d0d0d"/>
</g><g filter="url(#bl)">
<circle cx="169.0" cy="686.7" r="2.50" fill="#000"/>
<circle cx="162.0" cy="694.7" r="2.00" fill="#000"/>
<circle cx="143.0" cy="696.5" r="1.50" fill="#000"/>
<circle cx="216.0" cy="680.0" r="1.50" fill="#000"/>
<circle cx="207.6" cy="706.0" r="2.00" fill="#000"/>
<circle cx="185.0" cy="705.6" r="1.30" fill="#000"/>
<circle cx="158.0" cy="709.0" r="1.50" fill="#000"/>
<circle cx="162.7" cy="710.8" r="1.50" fill="#000"/>
<circle cx="229.0" cy="716.0" r="2.00" fill="#000"/>
<circle cx="249.0" cy="725.0" r="3.20" fill="#000"/>
<circle cx="196.4" cy="723.8" r="1.50" fill="#000"/>
<circle cx="184.0" cy="738.6" r="2.50" fill="#000"/>
<circle cx="183.4" cy="746.0" r="1.50" fill="#000"/>
<circle cx="221.6" cy="741.0" r="2.00" fill="#000"/>
<circle cx="239.0" cy="742.8" r="1.70" fill="#000"/>
<circle cx="250.0" cy="743.0" r="1.50" fill="#000"/>
<circle cx="161.0" cy="730.0" r="1.50" fill="#000"/>
<circle cx="157.5" cy="736.0" r="1.20" fill="#000"/>
<circle cx="145.8" cy="751.0" r="1.50" fill="#000"/>
<circle cx="172.5" cy="759.4" r="2.50" fill="#000"/>
<circle cx="167.9" cy="763.6" r="2.00" fill="#000"/>
<circle cx="169.7" cy="767.0" r="1.50" fill="#000"/>
<circle cx="200.8" cy="760.0" r="1.70" fill="#000"/>
<circle cx="202.4" cy="767.5" r="2.80" fill="#000"/>
<circle cx="226.0" cy="765.0" r="1.50" fill="#000"/>
<circle cx="202.4" cy="777.6" r="1.20" fill="#000"/>
<circle cx="175.6" cy="782.0" r="1.20" fill="#000"/>
<circle cx="238.0" cy="759.0" r="1.20" fill="#000"/>
<circle cx="218.5" cy="699.0" r="1.20" fill="#000"/>
<circle cx="222.4" cy="722.0" r="1.20" fill="#000"/>
</g>
<circle cx="193.5" cy="724.5" r="62.4" fill="none" stroke="#707070" stroke-width="1.4" filter="url(#bl2)" opacity="0.55"/>
</g>
<clipPath id="cp2"><circle cx="322.5" cy="724" r="62.5"/></clipPath>
<circle cx="322.5" cy="724" r="62.5" fill="url(#wg)"/>
<g clip-path="url(#cp2)">
<rect x="260.0" y="661.5" width="125.0" height="125.0" filter="url(#noise0)" opacity="0.3"/>
<g filter="url(#bl2)">
<circle cx="319.7" cy="774.1" r="1.05" fill="#6b6b6b"/>
<circle cx="293.9" cy="683.6" r="1.20" fill="#898989"/>
<circle cx="320.3" cy="702.2" r="0.93" fill="#6d6d6d"/>
<circle cx="322.2" cy="713.5" r="0.60" fill="#8b8b8b"/>
<circle cx="316.8" cy="719.4" r="0.72" fill="#696969"/>
<circle cx="369.0" cy="751.5" r="1.21" fill="#707070"/>
<circle cx="346.7" cy="677.6" r="1.26" fill="#707070"/>
<circle cx="304.4" cy="747.1" r="1.22" fill="#838383"/>
<circle cx="285.9" cy="708.4" r="0.79" fill="#7b7b7b"/>
<circle cx="290.9" cy="686.5" r="0.78" fill="#868686"/>
<circle cx="340.5" cy="666.6" r="1.05" fill="#838383"/>
<circle cx="276.4" cy="685.3" r="0.85" fill="#8e8e8e"/>
<circle cx="298.6" cy="732.9" r="0.66" fill="#818181"/>
<circle cx="299.6" cy="753.0" r="0.71" fill="#717171"/>
<circle cx="305.1" cy="737.4" r="0.89" fill="#6f6f6f"/>
<circle cx="270.2" cy="701.2" r="1.06" fill="#686868"/>
<circle cx="366.3" cy="745.7" r="1.26" fill="#787878"/>
<circle cx="362.0" cy="724.5" r="1.19" fill="#6e6e6e"/>
<circle cx="356.7" cy="766.3" r="1.17" fill="#888888"/>
<circle cx="321.3" cy="775.9" r="1.09" fill="#707070"/>
<circle cx="363.5" cy="688.4" r="0.66" fill="#888888"/>
<circle cx="286.3" cy="760.3" r="0.61" fill="#8d8d8d"/>
<circle cx="281.5" cy="692.8" r="0.67" fill="#878787"/>
<circle cx="371.5" cy="737.4" r="0.53" fill="#858585"/>
<circle cx="317.6" cy="688.9" r="0.74" fill="#6a6a6a"/>
<circle cx="333.0" cy="680.1" r="1.22" fill="#6a6a6a"/>
<circle cx="366.6" cy="744.5" r="0.94" fill="#828282"/>
<circle cx="302.3" cy="667.8" r="1.16" fill="#898989"/>
<circle cx="325.3" cy="725.8" r="1.30" fill="#676767"/>
<circle cx="274.1" cy="755.5" r="0.95" fill="#8c8c8c"/>
<circle cx="359.2" cy="743.4" r="0.79" fill="#626262"/>
<circle cx="357.6" cy="725.3" r="0.90" fill="#828282"/>
<circle cx="281.0" cy="719.6" r="1.04" fill="#727272"/>
<circle cx="333.7" cy="688.6" r="1.07" fill="#6a6a6a"/>
<circle cx="320.3" cy="693.3" r="1.05" fill="#6d6d6d"/>
<circle cx="320.0" cy="770.4" r="0.78" fill="#6f6f6f"/>
<circle cx="289.3" cy="702.3" r="1.01" fill="#7b7b7b"/>
<circle cx="359.6" cy="733.1" r="0.57" fill="#909090"/>
<circle cx="378.3" cy="740.4" r="1.02" fill="#737373"/>
<circle cx="337.9" cy="763.1" r="0.94" fill="#757575"/>
<circle cx="363.3" cy="740.6" r="1.26" fill="#696969"/>
<circle cx="335.8" cy="708.7" r="1.16" fill="#6d6d6d"/>
<circle cx="305.7" cy="768.0" r="0.73" fill="#767676"/>
<circle cx="347.7" cy="750.3" r="0.85" fill="#858585"/>
<circle cx="335.1" cy="723.2" r="0.93" fill="#686868"/>
<circle cx="335.7" cy="721.3" r="0.63" fill="#828282"/>
<circle cx="318.8" cy="666.5" r="1.22" fill="#8b8b8b"/>
<circle cx="347.2" cy="757.9" r="0.80" fill="#767676"/>
<circle cx="317.6" cy="778.7" r="0.54" fill="#6f6f6f"/>
<circle cx="293.2" cy="673.2" r="0.92" fill="#909090"/>
<circle cx="279.8" cy="740.8" r="1.00" fill="#838383"/>
<circle cx="339.0" cy="711.6" r="0.61" fill="#828282"/>
<circle cx="324.8" cy="687.2" r="0.82" fill="#696969"/>
<circle cx="354.6" cy="716.1" r="0.57" fill="#636363"/>
<circle cx="345.0" cy="713.7" r="0.51" fill="#818181"/>
<circle cx="310.6" cy="668.8" r="1.30" fill="#888888"/>
<circle cx="280.0" cy="745.9" r="1.17" fill="#8d8d8d"/>
<circle cx="304.8" cy="668.7" r="0.53" fill="#666666"/>
<circle cx="300.8" cy="780.5" r="0.88" fill="#717171"/>
<circle cx="336.2" cy="743.0" r="0.74" fill="#818181"/>
<circle cx="352.8" cy="729.6" r="0.77" fill="#6f6f6f"/>
<circle cx="379.2" cy="707.1" r="0.80" fill="#6a6a6a"/>
<circle cx="375.4" cy="721.8" r="0.89" fill="#707070"/>
<circle cx="348.4" cy="762.1" r="1.27" fill="#7d7d7d"/>
<circle cx="335.3" cy="758.9" r="0.88" fill="#6c6c6c"/>
<circle cx="379.2" cy="734.5" r="0.89" fill="#808080"/>
<circle cx="330.9" cy="741.5" r="0.97" fill="#737373"/>
<circle cx="372.9" cy="752.0" r="0.96" fill="#8e8e8e"/>
<circle cx="336.7" cy="699.8" r="1.10" fill="#898989"/>
<circle cx="318.9" cy="714.7" r="0.93" fill="#8b8b8b"/>
<circle cx="357.0" cy="767.6" r="0.62" fill="#636363"/>
<circle cx="318.0" cy="684.6" r="1.10" fill="#6e6e6e"/>
<circle cx="275.4" cy="728.0" r="0.69" fill="#818181"/>
<circle cx="276.7" cy="722.8" r="1.21" fill="#757575"/>
<circle cx="295.4" cy="685.2" r="0.92" fill="#7b7b7b"/>
<circle cx="326.5" cy="767.1" r="0.51" fill="#777777"/>
<circle cx="372.7" cy="693.9" r="1.15" fill="#686868"/>
<circle cx="301.0" cy="677.2" r="1.03" fill="#858585"/>
<circle cx="365.2" cy="752.2" r="0.60" fill="#6b6b6b"/>
<circle cx="310.7" cy="715.8" r="1.01" fill="#878787"/>
<circle cx="321.6" cy="714.3" r="0.87" fill="#767676"/>
<circle cx="282.4" cy="761.2" r="0.90" fill="#848484"/>
<circle cx="306.8" cy="722.7" r="1.19" fill="#818181"/>
<circle cx="356.2" cy="713.6" r="1.04" fill="#6d6d6d"/>
<circle cx="307.5" cy="690.0" r="0.56" fill="#7e7e7e"/>
<circle cx="352.7" cy="710.2" r="1.24" fill="#616161"/>
<circle cx="362.9" cy="720.5" r="0.83" fill="#848484"/>
<circle cx="334.3" cy="714.8" r="0.70" fill="#606060"/>
<circle cx="343.5" cy="751.4" r="0.74" fill="#818181"/>
<circle cx="337.9" cy="780.5" r="0.74" fill="#6d6d6d"/>
<circle cx="283.4" cy="682.9" r="1.10" fill="#898989"/>
<circle cx="333.3" cy="735.3" r="0.81" fill="#6d6d6d"/>
<circle cx="299.1" cy="779.6" r="0.63" fill="#6b6b6b"/>
<circle cx="350.3" cy="732.9" r="0.95" fill="#6b6b6b"/>
<circle cx="295.0" cy="681.0" r="1.06" fill="#7f7f7f"/>
<circle cx="336.9" cy="705.0" r="0.54" fill="#878787"/>
<circle cx="374.5" cy="741.6" r="1.12" fill="#8f8f8f"/>
<circle cx="345.8" cy="769.3" r="0.84" fill="#7a7a7a"/>
<circle cx="313.4" cy="753.7" r="1.14" fill="#8d8d8d"/>
<circle cx="268.1" cy="704.8" r="0.72" fill="#8d8d8d"/>
<circle cx="335.7" cy="777.9" r="0.57" fill="#636363"/>
<circle cx="359.8" cy="677.5" r="0.70" fill="#6e6e6e"/>
<circle cx="308.9" cy="710.5" r="0.89" fill="#868686"/>
<circle cx="362.8" cy="755.0" r="0.96" fill="#7a7a7a"/>
<circle cx="349.8" cy="755.7" r="0.88" fill="#777777"/>
<circle cx="358.7" cy="760.2" r="0.89" fill="#8c8c8c"/>
<circle cx="366.1" cy="756.1" r="1.15" fill="#7c7c7c"/>
<circle cx="380.4" cy="729.6" r="1.06" fill="#888888"/>
<circle cx="292.8" cy="720.2" r="0.62" fill="#7b7b7b"/>
<circle cx="358.7" cy="728.4" r="1.10" fill="#8f8f8f"/>
<circle cx="330.7" cy="745.8" r="0.63" fill="#6a6a6a"/>
<circle cx="282.2" cy="681.1" r="1.14" fill="#868686"/>
<circle cx="303.1" cy="732.8" r="0.83" fill="#6d6d6d"/>
<circle cx="342.1" cy="680.5" r="0.80" fill="#616161"/>
<circle cx="292.0" cy="746.7" r="1.23" fill="#797979"/>
<circle cx="311.9" cy="767.9" r="0.82" fill="#868686"/>
<circle cx="322.6" cy="710.6" r="0.87" fill="#666666"/>
<circle cx="271.4" cy="712.1" r="1.08" fill="#8f8f8f"/>
<circle cx="355.8" cy="765.9" r="0.53" fill="#8e8e8e"/>
<circle cx="333.7" cy="751.6" r="0.85" fill="#7f7f7f"/>
</g><g filter="url(#bl3)">
<circle cx="316.9" cy="762.3" r="1.47" fill="#060606"/>
<circle cx="320.0" cy="683.9" r="1.61" fill="#050505"/>
<circle cx="297.5" cy="734.0" r="1.43" fill="#0c0c0c"/>
<circle cx="357.8" cy="737.2" r="1.52" fill="#060606"/>
<circle cx="287.0" cy="708.9" r="1.00" fill="#000000"/>
<circle cx="274.8" cy="740.7" r="1.23" fill="#0c0c0c"/>
<circle cx="358.9" cy="702.7" r="1.65" fill="#0e0e0e"/>
<circle cx="372.6" cy="754.1" r="1.20" fill="#0e0e0e"/>
<circle cx="360.4" cy="745.2" r="1.33" fill="#000000"/>
<circle cx="371.8" cy="743.5" r="1.26" fill="#070707"/>
<circle cx="320.9" cy="714.3" r="1.35" fill="#060606"/>
<circle cx="311.5" cy="726.4" r="1.57" fill="#060606"/>
<circle cx="313.5" cy="776.4" r="1.15" fill="#040404"/>
<circle cx="354.2" cy="766.3" r="1.37" fill="#000000"/>
<circle cx="329.2" cy="737.8" r="1.00" fill="#0f0f0f"/>
<circle cx="369.5" cy="712.3" r="1.12" fill="#070707"/>
<circle cx="370.3" cy="745.7" r="1.00" fill="#020202"/>
<circle cx="284.8" cy="756.2" r="1.01" fill="#010101"/>
<circle cx="318.4" cy="687.5" r="1.01" fill="#0e0e0e"/>
<circle cx="296.4" cy="670.8" r="1.00" fill="#050505"/>
<circle cx="362.8" cy="687.4" r="1.19" fill="#020202"/>
<circle cx="283.6" cy="723.1" r="1.54" fill="#0c0c0c"/>
<circle cx="300.8" cy="704.1" r="1.03" fill="#0e0e0e"/>
<circle cx="323.1" cy="719.3" r="1.45" fill="#0e0e0e"/>
<circle cx="327.0" cy="772.4" r="1.54" fill="#080808"/>
<circle cx="374.2" cy="730.6" r="1.88" fill="#080808"/>
<circle cx="277.8" cy="689.1" r="1.35" fill="#000000"/>
<circle cx="292.6" cy="675.5" r="1.00" fill="#0a0a0a"/>
<circle cx="324.7" cy="763.4" r="1.33" fill="#080808"/>
<circle cx="331.5" cy="730.6" r="1.04" fill="#000000"/>
<circle cx="373.1" cy="748.1" r="1.00" fill="#0b0b0b"/>
<circle cx="367.2" cy="750.4" r="1.46" fill="#050505"/>
<circle cx="321.5" cy="682.6" r="1.19" fill="#000000"/>
<circle cx="273.3" cy="734.5" r="1.88" fill="#0a0a0a"/>
<circle cx="267.4" cy="704.9" r="1.00" fill="#0d0d0d"/>
<circle cx="327.3" cy="669.2" r="1.67" fill="#060606"/>
<circle cx="344.8" cy="716.8" r="1.19" fill="#020202"/>
<circle cx="298.0" cy="744.7" r="1.12" fill="#0d0d0d"/>
<circle cx="339.3" cy="685.7" r="1.00" fill="#0c0c0c"/>
<circle cx="317.2" cy="739.7" r="1.09" fill="#060606"/>
<circle cx="274.2" cy="732.5" r="1.08" fill="#020202"/>
<circle cx="290.1" cy="729.5" r="1.26" fill="#0a0a0a"/>
<circle cx="380.1" cy="727.9" r="1.00" fill="#050505"/>
<circle cx="311.1" cy="722.0" r="1.02" fill="#0d0d0d"/>
<circle cx="361.1" cy="724.2" r="1.32" fill="#0d0d0d"/>
<circle cx="344.6" cy="731.2" r="1.42" fill="#0c0c0c"/>
<circle cx="323.0" cy="779.3" r="1.14" fill="#060606"/>
<circle cx="355.4" cy="728.8" r="1.00" fill="#070707"/>
<circle cx="329.2" cy="758.8" r="1.71" fill="#0c0c0c"/>
<circle cx="348.2" cy="684.4" r="1.00" fill="#060606"/>
<circle cx="323.6" cy="693.8" r="1.78" fill="#070707"/>
<circle cx="347.2" cy="753.3" r="1.06" fill="#090909"/>
<circle cx="310.7" cy="751.6" r="1.33" fill="#090909"/>
<circle cx="289.9" cy="679.4" r="1.00" fill="#070707"/>
<circle cx="343.8" cy="740.6" r="1.04" fill="#050505"/>
<circle cx="296.9" cy="671.5" r="1.04" fill="#070707"/>
<circle cx="338.3" cy="763.6" r="1.00" fill="#0a0a0a"/>
<circle cx="362.1" cy="715.0" r="1.07" fill="#0c0c0c"/>
<circle cx="362.3" cy="744.4" r="1.13" fill="#080808"/>
<circle cx="308.4" cy="771.3" r="1.11" fill="#020202"/>
<circle cx="267.0" cy="712.9" r="1.00" fill="#000000"/>
<circle cx="297.5" cy="698.9" r="1.19" fill="#0d0d0d"/>
<circle cx="321.5" cy="687.1" r="1.00" fill="#060606"/>
<circle cx="370.9" cy="709.9" r="1.06" fill="#101010"/>
<circle cx="362.5" cy="754.5" r="1.00" fill="#0c0c0c"/>
<circle cx="281.4" cy="750.1" r="1.65" fill="#0c0c0c"/>
<circle cx="272.1" cy="701.7" r="1.09" fill="#0e0e0e"/>
<circle cx="376.4" cy="726.4" r="1.56" fill="#0f0f0f"/>
<circle cx="353.1" cy="674.3" r="1.05" fill="#090909"/>
<circle cx="313.1" cy="669.5" r="1.46" fill="#050505"/>
<circle cx="377.8" cy="739.6" r="1.44" fill="#070707"/>
<circle cx="324.2" cy="668.8" r="1.72" fill="#090909"/>
<circle cx="345.8" cy="696.7" r="1.11" fill="#050505"/>
<circle cx="286.3" cy="705.9" r="1.04" fill="#0d0d0d"/>
<circle cx="369.6" cy="757.5" r="1.90" fill="#070707"/>
<circle cx="337.1" cy="671.3" r="1.00" fill="#030303"/>
<circle cx="301.4" cy="736.6" r="1.01" fill="#050505"/>
<circle cx="355.9" cy="716.6" r="1.16" fill="#0d0d0d"/>
<circle cx="302.2" cy="720.8" r="1.20" fill="#0c0c0c"/>
<circle cx="329.3" cy="711.9" r="1.81" fill="#020202"/>
<circle cx="358.0" cy="696.6" r="1.02" fill="#030303"/>
<circle cx="276.8" cy="729.8" r="1.10" fill="#090909"/>
<circle cx="318.0" cy="684.8" r="1.05" fill="#060606"/>
<circle cx="278.1" cy="690.7" r="1.15" fill="#0d0d0d"/>
<circle cx="316.2" cy="669.4" r="1.05" fill="#0a0a0a"/>
<circle cx="361.6" cy="703.5" r="1.00" fill="#060606"/>
<circle cx="346.4" cy="675.9" r="1.16" fill="#090909"/>
<circle cx="296.3" cy="762.5" r="1.01" fill="#010101"/>
<circle cx="325.3" cy="686.2" r="1.70" fill="#000000"/>
<circle cx="323.0" cy="689.8" r="1.66" fill="#090909"/>
<circle cx="356.8" cy="741.8" r="1.17" fill="#090909"/>
<circle cx="318.2" cy="675.7" r="1.32" fill="#020202"/>
<circle cx="314.6" cy="721.2" r="1.10" fill="#060606"/>
<circle cx="342.0" cy="724.5" r="1.73" fill="#010101"/>
<circle cx="290.3" cy="722.8" r="1.03" fill="#0e0e0e"/>
<circle cx="360.7" cy="713.5" r="1.03" fill="#070707"/>
<circle cx="363.4" cy="684.7" r="1.11" fill="#0f0f0f"/>
<circle cx="300.3" cy="721.0" r="1.00" fill="#0a0a0a"/>
<circle cx="313.1" cy="721.2" r="1.02" fill="#050505"/>
<circle cx="314.3" cy="770.6" r="1.24" fill="#0b0b0b"/>
<circle cx="327.1" cy="755.3" r="1.01" fill="#0a0a0a"/>
<circle cx="344.6" cy="735.6" r="1.00" fill="#060606"/>
<circle cx="369.5" cy="712.1" r="1.10" fill="#0f0f0f"/>
<circle cx="316.7" cy="712.8" r="1.00" fill="#020202"/>
<circle cx="298.1" cy="672.9" r="1.00" fill="#0b0b0b"/>
<circle cx="322.3" cy="781.3" r="1.00" fill="#040404"/>
<circle cx="302.4" cy="761.7" r="1.01" fill="#0c0c0c"/>
<circle cx="321.6" cy="762.4" r="1.15" fill="#050505"/>
<circle cx="327.3" cy="747.9" r="1.10" fill="#101010"/>
<circle cx="335.8" cy="705.3" r="1.25" fill="#040404"/>
<circle cx="343.9" cy="730.3" r="1.27" fill="#030303"/>
<circle cx="303.5" cy="671.3" r="1.36" fill="#0e0e0e"/>
<circle cx="362.7" cy="710.2" r="1.05" fill="#060606"/>
<circle cx="365.2" cy="726.5" r="1.07" fill="#090909"/>
<circle cx="299.5" cy="742.9" r="1.60" fill="#010101"/>
<circle cx="279.4" cy="698.5" r="1.03" fill="#050505"/>
<circle cx="337.9" cy="736.9" r="1.38" fill="#0f0f0f"/>
<circle cx="304.7" cy="678.7" r="1.63" fill="#0d0d0d"/>
<circle cx="347.2" cy="761.8" r="1.36" fill="#060606"/>
<circle cx="306.7" cy="684.0" r="1.47" fill="#000000"/>
<circle cx="349.2" cy="731.9" r="1.10" fill="#070707"/>
<circle cx="323.4" cy="692.6" r="1.15" fill="#060606"/>
<circle cx="315.4" cy="711.2" r="1.07" fill="#080808"/>
<circle cx="274.2" cy="720.6" r="1.29" fill="#0e0e0e"/>
<circle cx="290.6" cy="734.0" r="1.00" fill="#070707"/>
<circle cx="292.5" cy="682.1" r="1.03" fill="#050505"/>
<circle cx="303.5" cy="753.0" r="1.68" fill="#010101"/>
<circle cx="348.5" cy="697.4" r="1.05" fill="#0c0c0c"/>
<circle cx="280.6" cy="705.5" r="1.71" fill="#0f0f0f"/>
<circle cx="378.8" cy="740.3" r="1.00" fill="#0f0f0f"/>
<circle cx="335.5" cy="710.9" r="1.63" fill="#020202"/>
<circle cx="361.3" cy="713.7" r="1.10" fill="#0d0d0d"/>
<circle cx="302.5" cy="718.6" r="1.63" fill="#060606"/>
<circle cx="296.9" cy="763.4" r="1.00" fill="#090909"/>
<circle cx="303.7" cy="669.2" r="1.53" fill="#080808"/>
<circle cx="331.6" cy="743.1" r="1.77" fill="#0c0c0c"/>
<circle cx="328.0" cy="748.3" r="1.19" fill="#050505"/>
<circle cx="321.6" cy="769.3" r="1.14" fill="#060606"/>
<circle cx="306.9" cy="760.5" r="1.00" fill="#030303"/>
<circle cx="303.6" cy="746.2" r="1.04" fill="#000000"/>
<circle cx="313.3" cy="706.1" r="1.69" fill="#000000"/>
<circle cx="269.1" cy="714.9" r="1.27" fill="#000000"/>
<circle cx="318.1" cy="743.8" r="1.01" fill="#0e0e0e"/>
<circle cx="352.7" cy="762.4" r="1.84" fill="#020202"/>
<circle cx="370.3" cy="722.6" r="1.06" fill="#060606"/>
<circle cx="342.5" cy="695.7" r="1.00" fill="#010101"/>
<circle cx="305.3" cy="779.6" r="1.97" fill="#070707"/>
<circle cx="264.6" cy="725.1" r="1.85" fill="#010101"/>
<circle cx="349.6" cy="753.1" r="1.28" fill="#020202"/>
<circle cx="321.8" cy="760.2" r="1.11" fill="#090909"/>
<circle cx="350.7" cy="762.5" r="1.13" fill="#040404"/>
<circle cx="326.9" cy="675.8" r="1.26" fill="#030303"/>
<circle cx="276.1" cy="738.8" r="1.80" fill="#030303"/>
<circle cx="313.8" cy="734.4" r="1.10" fill="#0f0f0f"/>
<circle cx="316.1" cy="768.6" r="1.00" fill="#080808"/>
<circle cx="370.6" cy="740.0" r="1.10" fill="#090909"/>
<circle cx="326.1" cy="755.2" r="1.39" fill="#090909"/>
<circle cx="290.2" cy="732.7" r="1.59" fill="#070707"/>
<circle cx="374.4" cy="714.4" r="1.92" fill="#000000"/>
<circle cx="286.0" cy="768.2" r="1.00" fill="#060606"/>
<circle cx="316.5" cy="704.8" r="1.02" fill="#060606"/>
<circle cx="378.5" cy="708.5" r="1.16" fill="#080808"/>
<circle cx="295.2" cy="706.5" r="1.07" fill="#0c0c0c"/>
<circle cx="304.8" cy="775.0" r="1.00" fill="#020202"/>
<circle cx="320.9" cy="747.5" r="1.98" fill="#030303"/>
<circle cx="267.7" cy="733.7" r="1.01" fill="#040404"/>
<circle cx="288.9" cy="761.6" r="1.01" fill="#030303"/>
<circle cx="286.1" cy="729.1" r="1.05" fill="#0f0f0f"/>
<circle cx="315.5" cy="766.7" r="1.00" fill="#101010"/>
<circle cx="327.3" cy="712.4" r="1.01" fill="#0c0c0c"/>
<circle cx="291.2" cy="710.5" r="1.11" fill="#0e0e0e"/>
<circle cx="264.5" cy="715.4" r="1.37" fill="#070707"/>
<circle cx="280.4" cy="737.5" r="1.91" fill="#040404"/>
<circle cx="355.6" cy="766.0" r="1.03" fill="#020202"/>
<circle cx="344.1" cy="711.8" r="1.00" fill="#080808"/>
<circle cx="314.1" cy="753.3" r="1.81" fill="#090909"/>
<circle cx="326.9" cy="670.3" r="1.11" fill="#0c0c0c"/>
<circle cx="329.7" cy="734.7" r="1.46" fill="#0b0b0b"/>
<circle cx="363.0" cy="723.3" r="1.04" fill="#040404"/>
<circle cx="310.2" cy="774.0" r="1.05" fill="#101010"/>
<circle cx="271.9" cy="721.9" r="1.32" fill="#0e0e0e"/>
<circle cx="310.2" cy="774.9" r="1.22" fill="#0e0e0e"/>
<circle cx="300.2" cy="674.1" r="1.01" fill="#000000"/>
<circle cx="284.4" cy="696.8" r="1.01" fill="#020202"/>
<circle cx="318.9" cy="747.7" r="1.41" fill="#040404"/>
<circle cx="347.5" cy="769.8" r="1.00" fill="#010101"/>
<circle cx="286.9" cy="751.3" r="1.29" fill="#0b0b0b"/>
<circle cx="281.3" cy="761.5" r="1.87" fill="#0c0c0c"/>
<circle cx="286.1" cy="752.9" r="1.28" fill="#0c0c0c"/>
<circle cx="294.5" cy="762.5" r="1.33" fill="#050505"/>
<circle cx="364.9" cy="748.7" r="1.08" fill="#0c0c0c"/>
<circle cx="300.8" cy="720.0" r="1.01" fill="#0a0a0a"/>
<circle cx="336.0" cy="709.3" r="1.61" fill="#090909"/>
<circle cx="319.7" cy="696.3" r="1.20" fill="#010101"/>
<circle cx="364.3" cy="744.3" r="1.00" fill="#050505"/>
<circle cx="284.5" cy="702.4" r="1.00" fill="#101010"/>
<circle cx="343.7" cy="693.9" r="1.11" fill="#0a0a0a"/>
<circle cx="269.9" cy="741.5" r="1.00" fill="#0e0e0e"/>
<circle cx="365.1" cy="755.9" r="1.31" fill="#020202"/>
<circle cx="298.0" cy="674.6" r="1.65" fill="#0c0c0c"/>
<circle cx="330.7" cy="713.2" r="1.27" fill="#0c0c0c"/>
<circle cx="274.8" cy="747.4" r="1.83" fill="#090909"/>
<circle cx="281.5" cy="735.5" r="1.13" fill="#0d0d0d"/>
<circle cx="350.9" cy="701.4" r="1.00" fill="#090909"/>
<circle cx="325.9" cy="777.4" r="1.03" fill="#0a0a0a"/>
<circle cx="343.8" cy="679.9" r="1.01" fill="#0d0d0d"/>
<circle cx="350.6" cy="688.2" r="1.22" fill="#070707"/>
<circle cx="344.2" cy="715.0" r="1.04" fill="#000000"/>
<circle cx="292.5" cy="730.3" r="1.03" fill="#101010"/>
<circle cx="350.6" cy="756.6" r="1.52" fill="#080808"/>
<circle cx="321.4" cy="674.9" r="1.20" fill="#101010"/>
<circle cx="291.9" cy="693.5" r="1.56" fill="#0c0c0c"/>
<circle cx="306.0" cy="698.1" r="1.46" fill="#0f0f0f"/>
<circle cx="269.1" cy="731.8" r="1.00" fill="#010101"/>
<circle cx="372.3" cy="747.9" r="1.49" fill="#070707"/>
<circle cx="299.1" cy="688.2" r="1.05" fill="#030303"/>
<circle cx="334.3" cy="767.5" r="1.10" fill="#070707"/>
<circle cx="374.2" cy="719.1" r="1.13" fill="#0b0b0b"/>
<circle cx="310.7" cy="766.6" r="1.97" fill="#030303"/>
<circle cx="294.1" cy="764.7" r="1.07" fill="#060606"/>
<circle cx="340.6" cy="769.6" r="1.00" fill="#020202"/>
<circle cx="316.8" cy="689.0" r="1.00" fill="#060606"/>
<circle cx="318.2" cy="759.5" r="1.71" fill="#0e0e0e"/>
<circle cx="312.3" cy="702.7" r="1.00" fill="#090909"/>
<circle cx="340.4" cy="681.7" r="1.57" fill="#040404"/>
<circle cx="373.3" cy="709.2" r="1.07" fill="#000000"/>
<circle cx="290.3" cy="703.1" r="1.05" fill="#000000"/>
<circle cx="329.8" cy="686.6" r="1.01" fill="#0b0b0b"/>
<circle cx="313.1" cy="708.7" r="1.00" fill="#0e0e0e"/>
<circle cx="308.8" cy="740.8" r="1.38" fill="#070707"/>
<circle cx="317.5" cy="754.7" r="1.33" fill="#070707"/>
<circle cx="321.7" cy="723.1" r="1.16" fill="#040404"/>
<circle cx="294.3" cy="773.8" r="1.71" fill="#050505"/>
<circle cx="268.9" cy="706.7" r="1.00" fill="#030303"/>
<circle cx="340.5" cy="737.8" r="1.00" fill="#050505"/>
<circle cx="273.6" cy="703.8" r="1.06" fill="#080808"/>
<circle cx="362.3" cy="734.9" r="1.05" fill="#0c0c0c"/>
<circle cx="287.3" cy="730.4" r="1.21" fill="#080808"/>
<circle cx="360.4" cy="714.9" r="1.00" fill="#0b0b0b"/>
<circle cx="291.9" cy="737.1" r="1.02" fill="#040404"/>
</g><g filter="url(#bl)">
<circle cx="287.5" cy="722.0" r="2.20" fill="#000"/>
<circle cx="285.0" cy="737.6" r="3.00" fill="#000"/>
<circle cx="276.0" cy="737.0" r="1.60" fill="#000"/>
<circle cx="317.0" cy="720.0" r="1.80" fill="#000"/>
<circle cx="318.6" cy="692.0" r="2.00" fill="#000"/>
<circle cx="322.5" cy="699.0" r="1.80" fill="#000"/>
<circle cx="338.0" cy="707.0" r="2.00" fill="#000"/>
<circle cx="342.0" cy="709.5" r="2.00" fill="#000"/>
<circle cx="352.4" cy="687.5" r="1.80" fill="#000"/>
<circle cx="351.0" cy="675.8" r="1.50" fill="#000"/>
<circle cx="360.0" cy="695.0" r="1.50" fill="#000"/>
<circle cx="370.6" cy="711.0" r="2.00" fill="#000"/>
<circle cx="356.0" cy="717.0" r="2.00" fill="#000"/>
<circle cx="338.0" cy="739.4" r="2.00" fill="#000"/>
<circle cx="325.0" cy="733.0" r="1.80" fill="#000"/>
<circle cx="321.0" cy="739.4" r="1.50" fill="#000"/>
<circle cx="359.0" cy="733.0" r="1.80" fill="#000"/>
<circle cx="364.0" cy="735.5" r="1.50" fill="#000"/>
<circle cx="356.3" cy="740.7" r="1.50" fill="#000"/>
<circle cx="377.0" cy="747.0" r="1.50" fill="#000"/>
<circle cx="303.0" cy="716.0" r="1.50" fill="#000"/>
<circle cx="305.6" cy="753.7" r="1.30" fill="#000"/>
<circle cx="327.7" cy="751.0" r="1.50" fill="#000"/>
<circle cx="353.7" cy="759.0" r="1.50" fill="#000"/>
<circle cx="309.5" cy="781.0" r="1.30" fill="#000"/>
<circle cx="292.7" cy="678.4" r="1.30" fill="#000"/>
<circle cx="333.0" cy="674.5" r="1.30" fill="#000"/>
<circle cx="278.0" cy="764.0" r="1.30" fill="#000"/>
<circle cx="325.0" cy="766.7" r="1.30" fill="#000"/>
</g>
<circle cx="322.5" cy="724" r="61.9" fill="none" stroke="#707070" stroke-width="1.4" filter="url(#bl2)" opacity="0.55"/>
</g>
<clipPath id="cp3"><circle cx="452.5" cy="724.5" r="63"/></clipPath>
<circle cx="452.5" cy="724.5" r="63" fill="url(#wg2)"/>
<g clip-path="url(#cp3)">
<rect x="389.5" y="661.5" width="126" height="126" filter="url(#noise1)" opacity="0.3"/>
<g filter="url(#bl2)">
<circle cx="492.6" cy="756.4" r="1.02" fill="#6f6f6f"/>
<circle cx="448.4" cy="755.1" r="1.09" fill="#8a8a8a"/>
<circle cx="412.8" cy="737.5" r="1.20" fill="#797979"/>
<circle cx="456.1" cy="703.8" r="0.68" fill="#747474"/>
<circle cx="432.9" cy="748.8" r="1.14" fill="#888888"/>
<circle cx="428.1" cy="722.0" r="1.03" fill="#717171"/>
<circle cx="477.6" cy="767.0" r="0.60" fill="#757575"/>
<circle cx="484.0" cy="730.1" r="1.18" fill="#787878"/>
<circle cx="402.5" cy="759.1" r="0.85" fill="#868686"/>
<circle cx="493.1" cy="751.8" r="1.21" fill="#858585"/>
<circle cx="411.3" cy="698.7" r="0.64" fill="#666666"/>
<circle cx="451.7" cy="681.9" r="1.04" fill="#717171"/>
<circle cx="425.2" cy="732.9" r="1.14" fill="#808080"/>
<circle cx="451.9" cy="745.8" r="1.30" fill="#717171"/>
<circle cx="450.5" cy="734.5" r="1.09" fill="#676767"/>
<circle cx="434.2" cy="681.4" r="0.84" fill="#8b8b8b"/>
<circle cx="471.1" cy="757.6" r="0.75" fill="#7d7d7d"/>
<circle cx="409.0" cy="742.7" r="0.58" fill="#7e7e7e"/>
<circle cx="420.3" cy="749.8" r="0.99" fill="#7f7f7f"/>
<circle cx="473.6" cy="733.9" r="1.06" fill="#848484"/>
<circle cx="400.7" cy="744.5" r="0.82" fill="#7b7b7b"/>
<circle cx="503.5" cy="731.2" r="0.79" fill="#7e7e7e"/>
<circle cx="449.6" cy="758.0" r="0.65" fill="#888888"/>
<circle cx="401.7" cy="704.4" r="0.58" fill="#666666"/>
<circle cx="485.8" cy="731.9" r="1.29" fill="#858585"/>
<circle cx="408.4" cy="722.7" r="1.14" fill="#707070"/>
<circle cx="497.6" cy="763.7" r="1.12" fill="#606060"/>
<circle cx="459.6" cy="781.1" r="0.71" fill="#6f6f6f"/>
<circle cx="465.7" cy="773.1" r="0.77" fill="#8e8e8e"/>
<circle cx="455.2" cy="687.5" r="0.95" fill="#868686"/>
<circle cx="449.5" cy="670.4" r="0.63" fill="#898989"/>
<circle cx="472.6" cy="693.4" r="0.81" fill="#787878"/>
<circle cx="401.0" cy="709.2" r="0.75" fill="#878787"/>
<circle cx="500.5" cy="734.2" r="0.84" fill="#757575"/>
<circle cx="498.9" cy="753.8" r="0.60" fill="#636363"/>
<circle cx="444.4" cy="703.1" r="0.71" fill="#7c7c7c"/>
<circle cx="493.2" cy="765.6" r="0.54" fill="#666666"/>
<circle cx="450.9" cy="761.6" r="0.84" fill="#686868"/>
<circle cx="435.2" cy="730.7" r="1.15" fill="#6b6b6b"/>
<circle cx="482.7" cy="764.3" r="0.68" fill="#898989"/>
<circle cx="487.8" cy="681.9" r="1.30" fill="#868686"/>
<circle cx="427.3" cy="686.5" r="0.54" fill="#7a7a7a"/>
<circle cx="393.8" cy="736.3" r="0.76" fill="#646464"/>
<circle cx="462.5" cy="713.0" r="1.04" fill="#898989"/>
<circle cx="434.2" cy="719.5" r="1.19" fill="#7b7b7b"/>
<circle cx="463.6" cy="707.0" r="0.54" fill="#898989"/>
<circle cx="467.0" cy="717.8" r="1.14" fill="#737373"/>
<circle cx="510.7" cy="741.4" r="1.21" fill="#696969"/>
<circle cx="493.5" cy="725.8" r="1.13" fill="#7f7f7f"/>
<circle cx="450.8" cy="716.0" r="0.57" fill="#717171"/>
<circle cx="453.1" cy="774.9" r="1.02" fill="#606060"/>
<circle cx="400.5" cy="708.2" r="1.08" fill="#606060"/>
<circle cx="504.7" cy="699.2" r="1.18" fill="#797979"/>
<circle cx="428.0" cy="746.8" r="1.08" fill="#757575"/>
<circle cx="474.7" cy="728.6" r="1.27" fill="#8d8d8d"/>
<circle cx="441.9" cy="750.9" r="0.97" fill="#7c7c7c"/>
<circle cx="501.0" cy="732.3" r="1.30" fill="#757575"/>
<circle cx="404.3" cy="699.2" r="0.84" fill="#8b8b8b"/>
<circle cx="457.6" cy="664.3" r="1.28" fill="#616161"/>
<circle cx="415.6" cy="760.7" r="0.70" fill="#818181"/>
<circle cx="505.1" cy="715.8" r="1.16" fill="#6c6c6c"/>
<circle cx="450.7" cy="781.1" r="0.70" fill="#656565"/>
<circle cx="404.9" cy="738.8" r="0.54" fill="#6c6c6c"/>
<circle cx="429.6" cy="679.4" r="1.02" fill="#7b7b7b"/>
<circle cx="396.4" cy="739.1" r="0.55" fill="#646464"/>
<circle cx="445.0" cy="699.4" r="0.80" fill="#8c8c8c"/>
<circle cx="458.4" cy="743.6" r="0.79" fill="#6d6d6d"/>
<circle cx="453.5" cy="688.4" r="0.90" fill="#737373"/>
<circle cx="497.9" cy="739.2" r="0.87" fill="#717171"/>
<circle cx="419.2" cy="729.7" r="0.54" fill="#636363"/>
<circle cx="402.5" cy="717.8" r="0.89" fill="#888888"/>
<circle cx="438.3" cy="772.5" r="1.09" fill="#686868"/>
<circle cx="455.3" cy="715.5" r="0.91" fill="#646464"/>
<circle cx="509.7" cy="723.4" r="0.68" fill="#737373"/>
<circle cx="479.8" cy="686.3" r="1.16" fill="#767676"/>
<circle cx="465.9" cy="751.7" r="1.19" fill="#888888"/>
<circle cx="419.3" cy="768.7" r="1.30" fill="#7b7b7b"/>
<circle cx="461.9" cy="732.3" r="1.20" fill="#717171"/>
<circle cx="465.3" cy="748.5" r="1.13" fill="#676767"/>
<circle cx="400.1" cy="720.5" r="1.25" fill="#727272"/>
<circle cx="435.5" cy="713.1" r="1.12" fill="#7c7c7c"/>
<circle cx="499.9" cy="721.2" r="1.15" fill="#8d8d8d"/>
<circle cx="476.9" cy="674.8" r="0.69" fill="#858585"/>
<circle cx="409.2" cy="712.4" r="1.29" fill="#858585"/>
<circle cx="420.6" cy="755.7" r="0.61" fill="#888888"/>
<circle cx="431.6" cy="727.5" r="1.12" fill="#656565"/>
<circle cx="484.8" cy="690.9" r="0.68" fill="#666666"/>
<circle cx="482.9" cy="758.4" r="0.75" fill="#808080"/>
<circle cx="498.3" cy="744.2" r="1.28" fill="#777777"/>
<circle cx="483.8" cy="754.6" r="1.18" fill="#6a6a6a"/>
<circle cx="394.6" cy="741.4" r="1.12" fill="#888888"/>
<circle cx="425.2" cy="759.9" r="0.75" fill="#909090"/>
<circle cx="487.2" cy="738.7" r="0.70" fill="#666666"/>
<circle cx="421.5" cy="765.3" r="1.25" fill="#6a6a6a"/>
<circle cx="487.0" cy="704.4" r="0.64" fill="#646464"/>
<circle cx="420.8" cy="741.1" r="1.16" fill="#838383"/>
<circle cx="494.2" cy="685.1" r="1.21" fill="#7b7b7b"/>
<circle cx="486.4" cy="773.2" r="0.93" fill="#8c8c8c"/>
<circle cx="407.0" cy="748.9" r="1.14" fill="#6d6d6d"/>
<circle cx="481.4" cy="777.0" r="0.60" fill="#6f6f6f"/>
<circle cx="437.6" cy="723.4" r="0.61" fill="#797979"/>
<circle cx="451.9" cy="754.1" r="0.51" fill="#8f8f8f"/>
<circle cx="427.6" cy="676.9" r="0.53" fill="#717171"/>
<circle cx="425.8" cy="714.1" r="1.27" fill="#6e6e6e"/>
<circle cx="482.9" cy="734.8" r="0.64" fill="#838383"/>
<circle cx="475.2" cy="692.0" r="0.90" fill="#7f7f7f"/>
<circle cx="423.8" cy="733.5" r="0.54" fill="#696969"/>
<circle cx="403.0" cy="738.9" r="1.01" fill="#6c6c6c"/>
<circle cx="394.2" cy="722.9" r="0.75" fill="#676767"/>
<circle cx="413.6" cy="726.0" r="0.88" fill="#828282"/>
<circle cx="434.5" cy="760.0" r="0.73" fill="#747474"/>
<circle cx="460.8" cy="710.7" r="1.02" fill="#757575"/>
<circle cx="475.1" cy="734.0" r="0.65" fill="#707070"/>
<circle cx="396.9" cy="744.8" r="0.81" fill="#787878"/>
<circle cx="498.7" cy="725.5" r="1.18" fill="#646464"/>
<circle cx="442.5" cy="766.9" r="0.96" fill="#8a8a8a"/>
<circle cx="449.8" cy="682.2" r="1.26" fill="#7a7a7a"/>
<circle cx="443.3" cy="684.3" r="0.79" fill="#848484"/>
<circle cx="400.4" cy="733.2" r="0.81" fill="#777777"/>
<circle cx="461.1" cy="744.5" r="1.29" fill="#676767"/>
</g><g filter="url(#bl3)">
<circle cx="401.5" cy="726.4" r="1.75" fill="#0f0f0f"/>
<circle cx="437.6" cy="699.8" r="2.04" fill="#010101"/>
<circle cx="483.4" cy="761.1" r="1.57" fill="#050505"/>
<circle cx="406.3" cy="693.3" r="1.01" fill="#010101"/>
<circle cx="457.8" cy="745.2" r="1.76" fill="#0a0a0a"/>
<circle cx="433.0" cy="762.5" r="1.01" fill="#000000"/>
<circle cx="466.2" cy="735.4" r="2.29" fill="#000000"/>
<circle cx="454.7" cy="679.7" r="1.00" fill="#010101"/>
<circle cx="429.3" cy="763.3" r="1.68" fill="#0d0d0d"/>
<circle cx="456.2" cy="717.8" r="1.21" fill="#000000"/>
<circle cx="463.7" cy="716.6" r="2.16" fill="#0d0d0d"/>
<circle cx="468.9" cy="767.7" r="1.68" fill="#040404"/>
<circle cx="479.7" cy="745.0" r="1.00" fill="#060606"/>
<circle cx="478.2" cy="678.7" r="1.04" fill="#070707"/>
<circle cx="446.0" cy="755.1" r="2.10" fill="#0f0f0f"/>
<circle cx="404.2" cy="753.1" r="1.40" fill="#060606"/>
<circle cx="399.7" cy="720.5" r="1.16" fill="#080808"/>
<circle cx="476.4" cy="722.3" r="1.00" fill="#0c0c0c"/>
<circle cx="439.6" cy="746.4" r="1.65" fill="#101010"/>
<circle cx="408.7" cy="744.7" r="1.94" fill="#090909"/>
<circle cx="413.1" cy="744.6" r="1.00" fill="#0b0b0b"/>
<circle cx="494.8" cy="735.1" r="1.64" fill="#070707"/>
<circle cx="460.2" cy="725.9" r="1.00" fill="#020202"/>
<circle cx="400.0" cy="714.5" r="1.01" fill="#0a0a0a"/>
<circle cx="423.3" cy="701.8" r="1.07" fill="#040404"/>
<circle cx="439.9" cy="747.4" r="1.00" fill="#0c0c0c"/>
<circle cx="431.1" cy="740.1" r="1.00" fill="#0b0b0b"/>
<circle cx="420.5" cy="691.3" r="1.33" fill="#080808"/>
<circle cx="497.2" cy="723.2" r="2.15" fill="#070707"/>
<circle cx="502.2" cy="738.2" r="1.29" fill="#0e0e0e"/>
<circle cx="495.9" cy="760.5" r="1.07" fill="#0a0a0a"/>
<circle cx="477.9" cy="747.9" r="1.03" fill="#070707"/>
<circle cx="432.3" cy="774.9" r="1.75" fill="#0a0a0a"/>
<circle cx="412.2" cy="727.8" r="1.55" fill="#080808"/>
<circle cx="410.6" cy="709.6" r="2.10" fill="#040404"/>
<circle cx="420.5" cy="773.6" r="2.03" fill="#090909"/>
<circle cx="450.9" cy="765.9" r="1.00" fill="#0f0f0f"/>
<circle cx="482.8" cy="717.0" r="1.03" fill="#0c0c0c"/>
<circle cx="446.3" cy="757.7" r="1.41" fill="#040404"/>
<circle cx="492.2" cy="748.2" r="1.91" fill="#050505"/>
<circle cx="499.6" cy="702.7" r="1.28" fill="#060606"/>
<circle cx="439.4" cy="672.2" r="1.08" fill="#0c0c0c"/>
<circle cx="406.1" cy="752.6" r="1.00" fill="#101010"/>
<circle cx="432.8" cy="727.1" r="1.09" fill="#050505"/>
<circle cx="484.3" cy="700.2" r="2.04" fill="#080808"/>
<circle cx="484.9" cy="683.5" r="1.29" fill="#090909"/>
<circle cx="401.8" cy="733.8" r="1.08" fill="#080808"/>
<circle cx="400.2" cy="735.8" r="1.01" fill="#060606"/>
<circle cx="403.4" cy="739.1" r="2.29" fill="#0e0e0e"/>
<circle cx="443.4" cy="781.6" r="1.00" fill="#0f0f0f"/>
<circle cx="438.8" cy="781.8" r="1.17" fill="#010101"/>
<circle cx="460.8" cy="721.5" r="1.48" fill="#030303"/>
<circle cx="402.7" cy="692.5" r="1.71" fill="#070707"/>
<circle cx="425.3" cy="727.2" r="1.01" fill="#060606"/>
<circle cx="506.8" cy="737.9" r="1.00" fill="#000000"/>
<circle cx="407.0" cy="703.7" r="1.12" fill="#030303"/>
<circle cx="472.8" cy="761.3" r="1.01" fill="#060606"/>
<circle cx="432.3" cy="772.4" r="1.01" fill="#0b0b0b"/>
<circle cx="449.7" cy="755.1" r="1.17" fill="#070707"/>
<circle cx="422.8" cy="737.5" r="1.02" fill="#0b0b0b"/>
<circle cx="404.2" cy="719.1" r="1.17" fill="#010101"/>
<circle cx="466.2" cy="759.6" r="1.23" fill="#020202"/>
<circle cx="411.6" cy="695.5" r="2.24" fill="#0e0e0e"/>
<circle cx="404.5" cy="727.6" r="1.78" fill="#070707"/>
<circle cx="464.5" cy="759.0" r="1.94" fill="#000000"/>
<circle cx="487.9" cy="760.4" r="1.03" fill="#090909"/>
<circle cx="467.8" cy="674.1" r="1.00" fill="#010101"/>
<circle cx="441.2" cy="733.9" r="1.02" fill="#040404"/>
<circle cx="497.7" cy="719.8" r="1.03" fill="#040404"/>
<circle cx="450.9" cy="747.6" r="1.03" fill="#030303"/>
<circle cx="439.7" cy="750.5" r="1.03" fill="#020202"/>
<circle cx="473.4" cy="757.0" r="1.61" fill="#0e0e0e"/>
<circle cx="495.5" cy="727.9" r="1.53" fill="#0d0d0d"/>
<circle cx="428.0" cy="686.3" r="1.21" fill="#090909"/>
<circle cx="461.9" cy="728.6" r="1.64" fill="#0a0a0a"/>
<circle cx="441.4" cy="679.5" r="1.11" fill="#0d0d0d"/>
<circle cx="469.9" cy="684.1" r="1.26" fill="#0d0d0d"/>
<circle cx="506.6" cy="747.6" r="1.25" fill="#020202"/>
<circle cx="506.9" cy="740.7" r="1.39" fill="#0b0b0b"/>
<circle cx="425.8" cy="713.5" r="1.00" fill="#020202"/>
<circle cx="476.1" cy="706.7" r="1.46" fill="#050505"/>
<circle cx="427.7" cy="763.2" r="1.15" fill="#050505"/>
<circle cx="508.8" cy="742.0" r="1.08" fill="#0c0c0c"/>
<circle cx="477.0" cy="671.9" r="1.03" fill="#0e0e0e"/>
<circle cx="480.1" cy="750.3" r="1.12" fill="#000000"/>
<circle cx="504.1" cy="694.2" r="1.02" fill="#010101"/>
<circle cx="449.9" cy="702.6" r="2.28" fill="#0a0a0a"/>
<circle cx="479.5" cy="728.9" r="1.09" fill="#101010"/>
<circle cx="482.6" cy="714.4" r="1.00" fill="#060606"/>
<circle cx="453.5" cy="743.4" r="2.10" fill="#101010"/>
<circle cx="460.3" cy="776.3" r="1.00" fill="#0e0e0e"/>
<circle cx="457.7" cy="771.4" r="1.53" fill="#0e0e0e"/>
<circle cx="488.7" cy="744.8" r="1.72" fill="#020202"/>
<circle cx="449.0" cy="689.7" r="1.00" fill="#000000"/>
<circle cx="502.6" cy="727.5" r="1.00" fill="#0c0c0c"/>
<circle cx="417.3" cy="702.2" r="2.28" fill="#000000"/>
<circle cx="471.8" cy="677.1" r="1.08" fill="#070707"/>
<circle cx="451.9" cy="749.0" r="1.76" fill="#0b0b0b"/>
<circle cx="423.1" cy="717.4" r="1.35" fill="#030303"/>
<circle cx="472.8" cy="674.4" r="1.00" fill="#101010"/>
<circle cx="426.9" cy="777.7" r="1.24" fill="#060606"/>
<circle cx="400.0" cy="746.6" r="1.05" fill="#0a0a0a"/>
<circle cx="418.1" cy="754.7" r="1.21" fill="#0a0a0a"/>
<circle cx="508.4" cy="722.1" r="1.03" fill="#010101"/>
<circle cx="501.4" cy="704.8" r="1.00" fill="#0b0b0b"/>
<circle cx="418.6" cy="753.3" r="1.00" fill="#050505"/>
<circle cx="469.2" cy="677.5" r="1.00" fill="#0f0f0f"/>
<circle cx="476.3" cy="676.4" r="1.00" fill="#070707"/>
<circle cx="434.9" cy="695.6" r="1.01" fill="#0b0b0b"/>
<circle cx="481.6" cy="694.4" r="1.01" fill="#010101"/>
<circle cx="480.1" cy="691.5" r="1.00" fill="#040404"/>
<circle cx="484.7" cy="687.1" r="1.03" fill="#0f0f0f"/>
<circle cx="453.2" cy="685.9" r="1.40" fill="#050505"/>
<circle cx="502.1" cy="713.4" r="1.15" fill="#0f0f0f"/>
<circle cx="431.8" cy="740.1" r="1.56" fill="#040404"/>
<circle cx="431.8" cy="743.9" r="1.26" fill="#070707"/>
<circle cx="435.0" cy="713.7" r="1.89" fill="#060606"/>
<circle cx="445.6" cy="670.7" r="1.50" fill="#0c0c0c"/>
<circle cx="453.4" cy="671.6" r="1.01" fill="#030303"/>
<circle cx="483.1" cy="774.3" r="1.00" fill="#070707"/>
<circle cx="490.4" cy="688.6" r="1.34" fill="#0d0d0d"/>
<circle cx="448.1" cy="736.4" r="1.27" fill="#060606"/>
<circle cx="480.7" cy="769.0" r="2.07" fill="#040404"/>
<circle cx="486.7" cy="705.0" r="1.37" fill="#040404"/>
<circle cx="436.6" cy="691.2" r="1.93" fill="#050505"/>
<circle cx="462.9" cy="665.9" r="1.03" fill="#030303"/>
<circle cx="459.1" cy="745.2" r="1.02" fill="#0c0c0c"/>
<circle cx="493.7" cy="747.2" r="1.20" fill="#0e0e0e"/>
<circle cx="435.3" cy="696.5" r="1.00" fill="#030303"/>
<circle cx="508.2" cy="735.7" r="1.00" fill="#0a0a0a"/>
<circle cx="470.0" cy="771.4" r="1.00" fill="#0f0f0f"/>
<circle cx="413.2" cy="736.6" r="1.23" fill="#000000"/>
<circle cx="428.7" cy="670.9" r="1.01" fill="#020202"/>
<circle cx="472.8" cy="712.8" r="1.53" fill="#010101"/>
<circle cx="462.8" cy="712.8" r="1.04" fill="#060606"/>
<circle cx="459.9" cy="692.3" r="1.19" fill="#060606"/>
<circle cx="470.0" cy="705.7" r="2.19" fill="#080808"/>
<circle cx="451.3" cy="682.1" r="1.39" fill="#070707"/>
<circle cx="441.4" cy="752.5" r="1.08" fill="#080808"/>
<circle cx="418.5" cy="750.0" r="1.03" fill="#0b0b0b"/>
<circle cx="443.1" cy="753.1" r="1.99" fill="#030303"/>
<circle cx="486.7" cy="699.3" r="1.03" fill="#080808"/>
<circle cx="445.2" cy="683.5" r="1.55" fill="#070707"/>
<circle cx="432.1" cy="708.3" r="1.00" fill="#0a0a0a"/>
<circle cx="483.0" cy="720.7" r="1.06" fill="#090909"/>
<circle cx="495.3" cy="721.0" r="1.22" fill="#101010"/>
<circle cx="497.6" cy="762.8" r="1.96" fill="#0b0b0b"/>
<circle cx="398.9" cy="737.9" r="1.40" fill="#030303"/>
<circle cx="435.9" cy="678.7" r="1.00" fill="#060606"/>
<circle cx="487.2" cy="726.6" r="2.19" fill="#0a0a0a"/>
<circle cx="475.7" cy="682.4" r="1.07" fill="#0d0d0d"/>
<circle cx="396.3" cy="705.2" r="1.03" fill="#0b0b0b"/>
<circle cx="420.0" cy="726.1" r="1.01" fill="#0b0b0b"/>
<circle cx="466.7" cy="761.9" r="1.00" fill="#010101"/>
<circle cx="434.5" cy="760.4" r="2.18" fill="#0e0e0e"/>
<circle cx="400.5" cy="696.9" r="1.14" fill="#060606"/>
<circle cx="479.2" cy="700.6" r="1.10" fill="#090909"/>
<circle cx="441.3" cy="675.7" r="1.09" fill="#080808"/>
<circle cx="398.5" cy="733.8" r="1.01" fill="#080808"/>
<circle cx="448.2" cy="712.9" r="2.30" fill="#101010"/>
<circle cx="451.4" cy="685.6" r="1.85" fill="#090909"/>
<circle cx="402.5" cy="743.5" r="1.09" fill="#010101"/>
<circle cx="424.2" cy="726.3" r="2.11" fill="#090909"/>
<circle cx="451.3" cy="748.9" r="1.01" fill="#020202"/>
<circle cx="426.5" cy="772.2" r="2.28" fill="#0b0b0b"/>
<circle cx="478.8" cy="717.6" r="1.93" fill="#090909"/>
<circle cx="425.0" cy="770.6" r="2.26" fill="#0e0e0e"/>
<circle cx="466.3" cy="748.3" r="1.71" fill="#101010"/>
<circle cx="482.6" cy="753.0" r="1.20" fill="#070707"/>
<circle cx="477.2" cy="776.4" r="1.00" fill="#0f0f0f"/>
<circle cx="480.0" cy="759.8" r="1.90" fill="#101010"/>
<circle cx="484.6" cy="768.5" r="1.00" fill="#010101"/>
<circle cx="479.8" cy="725.4" r="1.41" fill="#060606"/>
<circle cx="426.0" cy="724.0" r="1.00" fill="#020202"/>
<circle cx="480.7" cy="733.1" r="1.40" fill="#040404"/>
<circle cx="424.6" cy="678.6" r="1.67" fill="#000000"/>
<circle cx="489.9" cy="767.5" r="1.03" fill="#0b0b0b"/>
<circle cx="409.9" cy="761.2" r="1.00" fill="#0e0e0e"/>
<circle cx="404.5" cy="734.2" r="1.96" fill="#0a0a0a"/>
<circle cx="446.5" cy="719.2" r="1.08" fill="#020202"/>
<circle cx="400.5" cy="750.7" r="1.02" fill="#0a0a0a"/>
<circle cx="423.6" cy="762.0" r="1.56" fill="#090909"/>
<circle cx="466.6" cy="684.5" r="1.25" fill="#101010"/>
<circle cx="453.7" cy="667.0" r="1.00" fill="#000000"/>
<circle cx="453.9" cy="720.5" r="1.61" fill="#010101"/>
<circle cx="445.4" cy="745.8" r="1.04" fill="#040404"/>
<circle cx="465.7" cy="672.1" r="1.01" fill="#010101"/>
<circle cx="468.7" cy="742.8" r="1.05" fill="#080808"/>
<circle cx="450.9" cy="689.1" r="1.86" fill="#0c0c0c"/>
<circle cx="476.3" cy="723.1" r="1.53" fill="#010101"/>
<circle cx="415.3" cy="766.9" r="1.02" fill="#060606"/>
<circle cx="438.3" cy="685.0" r="1.11" fill="#010101"/>
<circle cx="452.3" cy="688.2" r="1.02" fill="#040404"/>
<circle cx="421.8" cy="690.4" r="1.19" fill="#050505"/>
<circle cx="409.8" cy="694.0" r="1.55" fill="#0b0b0b"/>
<circle cx="439.0" cy="685.4" r="1.14" fill="#030303"/>
<circle cx="448.3" cy="739.1" r="1.13" fill="#010101"/>
<circle cx="455.5" cy="665.8" r="1.14" fill="#010101"/>
<circle cx="494.6" cy="759.8" r="1.24" fill="#070707"/>
<circle cx="467.9" cy="757.1" r="1.01" fill="#000000"/>
<circle cx="425.1" cy="750.5" r="1.22" fill="#020202"/>
<circle cx="461.4" cy="707.7" r="1.11" fill="#040404"/>
<circle cx="412.3" cy="699.5" r="2.24" fill="#0a0a0a"/>
<circle cx="494.9" cy="719.7" r="1.07" fill="#050505"/>
<circle cx="490.8" cy="682.5" r="1.01" fill="#040404"/>
<circle cx="418.1" cy="737.6" r="1.06" fill="#0e0e0e"/>
<circle cx="500.5" cy="740.5" r="1.68" fill="#030303"/>
<circle cx="437.9" cy="698.0" r="1.04" fill="#070707"/>
<circle cx="448.2" cy="708.5" r="1.07" fill="#030303"/>
<circle cx="461.9" cy="680.7" r="1.59" fill="#080808"/>
<circle cx="452.9" cy="760.8" r="1.01" fill="#0a0a0a"/>
<circle cx="435.3" cy="695.9" r="1.11" fill="#090909"/>
<circle cx="428.4" cy="729.8" r="1.02" fill="#030303"/>
<circle cx="473.5" cy="725.8" r="1.39" fill="#050505"/>
<circle cx="502.8" cy="733.4" r="1.02" fill="#050505"/>
<circle cx="503.4" cy="715.5" r="1.15" fill="#020202"/>
<circle cx="429.9" cy="690.9" r="1.20" fill="#0d0d0d"/>
<circle cx="434.0" cy="731.8" r="2.23" fill="#0c0c0c"/>
<circle cx="459.9" cy="666.5" r="1.00" fill="#020202"/>
<circle cx="469.2" cy="775.8" r="1.00" fill="#101010"/>
<circle cx="412.4" cy="726.0" r="1.13" fill="#0d0d0d"/>
<circle cx="433.1" cy="705.3" r="1.15" fill="#101010"/>
<circle cx="413.4" cy="735.5" r="1.03" fill="#0d0d0d"/>
<circle cx="457.2" cy="755.9" r="1.00" fill="#020202"/>
<circle cx="446.0" cy="751.7" r="1.10" fill="#0b0b0b"/>
<circle cx="419.2" cy="740.5" r="1.85" fill="#0f0f0f"/>
<circle cx="453.3" cy="772.1" r="1.03" fill="#0b0b0b"/>
<circle cx="393.6" cy="727.1" r="1.02" fill="#080808"/>
<circle cx="450.1" cy="750.3" r="1.38" fill="#0d0d0d"/>
<circle cx="484.7" cy="683.4" r="1.67" fill="#0c0c0c"/>
<circle cx="396.6" cy="743.5" r="1.01" fill="#080808"/>
<circle cx="446.3" cy="748.2" r="1.13" fill="#060606"/>
<circle cx="465.9" cy="753.1" r="1.00" fill="#050505"/>
<circle cx="463.2" cy="746.7" r="1.06" fill="#030303"/>
<circle cx="492.4" cy="704.7" r="1.63" fill="#0f0f0f"/>
<circle cx="452.7" cy="749.5" r="1.52" fill="#010101"/>
<circle cx="452.8" cy="699.0" r="1.47" fill="#000000"/>
<circle cx="418.1" cy="770.3" r="1.00" fill="#040404"/>
<circle cx="435.2" cy="752.5" r="1.06" fill="#080808"/>
<circle cx="423.5" cy="727.8" r="1.01" fill="#040404"/>
<circle cx="453.1" cy="780.0" r="1.28" fill="#000000"/>
<circle cx="456.1" cy="675.7" r="1.80" fill="#101010"/>
<circle cx="426.6" cy="711.2" r="1.08" fill="#101010"/>
<circle cx="459.7" cy="750.1" r="1.58" fill="#080808"/>
<circle cx="447.3" cy="695.9" r="1.00" fill="#090909"/>
<circle cx="435.0" cy="708.3" r="1.00" fill="#0a0a0a"/>
<circle cx="444.4" cy="732.2" r="1.14" fill="#060606"/>
<circle cx="407.4" cy="709.2" r="1.22" fill="#040404"/>
<circle cx="480.4" cy="692.7" r="1.81" fill="#050505"/>
<circle cx="491.5" cy="686.1" r="1.00" fill="#0c0c0c"/>
<circle cx="468.8" cy="760.6" r="1.16" fill="#020202"/>
<circle cx="452.0" cy="738.8" r="1.08" fill="#070707"/>
<circle cx="434.4" cy="748.1" r="1.09" fill="#0f0f0f"/>
<circle cx="471.8" cy="747.8" r="1.90" fill="#0e0e0e"/>
<circle cx="444.1" cy="758.0" r="1.47" fill="#050505"/>
<circle cx="505.1" cy="716.5" r="1.76" fill="#040404"/>
<circle cx="484.5" cy="687.5" r="1.00" fill="#0f0f0f"/>
<circle cx="495.0" cy="762.4" r="1.39" fill="#080808"/>
<circle cx="480.8" cy="725.3" r="1.68" fill="#070707"/>
<circle cx="486.2" cy="761.7" r="1.00" fill="#0f0f0f"/>
<circle cx="421.5" cy="766.2" r="1.00" fill="#0d0d0d"/>
<circle cx="469.1" cy="690.5" r="1.06" fill="#060606"/>
<circle cx="482.1" cy="675.4" r="1.01" fill="#050505"/>
<circle cx="459.2" cy="761.8" r="1.01" fill="#101010"/>
<circle cx="491.1" cy="696.2" r="1.61" fill="#0e0e0e"/>
<circle cx="448.0" cy="710.2" r="1.83" fill="#070707"/>
<circle cx="452.3" cy="770.5" r="1.55" fill="#080808"/>
<circle cx="480.0" cy="772.1" r="1.03" fill="#0d0d0d"/>
<circle cx="483.6" cy="697.2" r="1.54" fill="#030303"/>
<circle cx="478.2" cy="734.6" r="1.03" fill="#0e0e0e"/>
<circle cx="491.0" cy="732.7" r="1.46" fill="#030303"/>
<circle cx="399.7" cy="696.2" r="1.01" fill="#060606"/>
<circle cx="464.7" cy="753.6" r="1.34" fill="#0d0d0d"/>
<circle cx="437.9" cy="730.5" r="1.01" fill="#090909"/>
<circle cx="424.2" cy="686.6" r="1.03" fill="#010101"/>
<circle cx="436.4" cy="777.0" r="1.00" fill="#090909"/>
<circle cx="510.3" cy="709.1" r="1.00" fill="#0d0d0d"/>
<circle cx="418.0" cy="750.4" r="1.22" fill="#0f0f0f"/>
<circle cx="451.2" cy="718.0" r="1.81" fill="#101010"/>
<circle cx="428.9" cy="704.0" r="2.11" fill="#050505"/>
<circle cx="491.0" cy="697.7" r="2.23" fill="#070707"/>
<circle cx="436.0" cy="685.8" r="1.35" fill="#070707"/>
<circle cx="434.0" cy="778.7" r="1.00" fill="#080808"/>
<circle cx="424.3" cy="726.8" r="1.07" fill="#080808"/>
<circle cx="473.8" cy="728.5" r="1.03" fill="#080808"/>
<circle cx="457.2" cy="701.3" r="2.18" fill="#0d0d0d"/>
<circle cx="448.0" cy="765.7" r="1.11" fill="#0e0e0e"/>
<circle cx="449.0" cy="701.3" r="1.45" fill="#050505"/>
<circle cx="420.2" cy="736.3" r="1.31" fill="#000000"/>
<circle cx="490.2" cy="693.3" r="1.26" fill="#070707"/>
<circle cx="465.4" cy="719.1" r="2.03" fill="#000000"/>
<circle cx="456.0" cy="714.3" r="1.27" fill="#0a0a0a"/>
<circle cx="456.4" cy="719.5" r="1.37" fill="#080808"/>
<circle cx="456.3" cy="719.0" r="1.52" fill="#0e0e0e"/>
<circle cx="482.2" cy="772.7" r="1.05" fill="#0a0a0a"/>
<circle cx="455.1" cy="736.3" r="1.00" fill="#090909"/>
<circle cx="418.9" cy="701.2" r="1.04" fill="#020202"/>
<circle cx="471.9" cy="697.4" r="1.09" fill="#060606"/>
<circle cx="443.5" cy="671.3" r="1.19" fill="#010101"/>
<circle cx="425.4" cy="742.7" r="1.01" fill="#060606"/>
<circle cx="486.8" cy="734.2" r="2.15" fill="#060606"/>
<circle cx="477.7" cy="773.9" r="1.23" fill="#0a0a0a"/>
<circle cx="423.3" cy="702.6" r="1.97" fill="#080808"/>
<circle cx="440.0" cy="748.5" r="1.06" fill="#0c0c0c"/>
<circle cx="450.4" cy="775.1" r="1.15" fill="#010101"/>
<circle cx="409.6" cy="738.9" r="1.00" fill="#030303"/>
<circle cx="465.6" cy="744.1" r="1.68" fill="#0c0c0c"/>
<circle cx="498.0" cy="746.5" r="1.11" fill="#0c0c0c"/>
<circle cx="494.6" cy="717.7" r="1.91" fill="#060606"/>
<circle cx="498.9" cy="726.1" r="1.37" fill="#0d0d0d"/>
<circle cx="474.1" cy="722.7" r="1.49" fill="#020202"/>
<circle cx="504.9" cy="712.1" r="1.38" fill="#0b0b0b"/>
<circle cx="416.4" cy="726.1" r="1.22" fill="#090909"/>
<circle cx="466.2" cy="696.9" r="1.01" fill="#090909"/>
<circle cx="471.6" cy="730.2" r="1.00" fill="#060606"/>
<circle cx="473.6" cy="735.3" r="1.27" fill="#0c0c0c"/>
<circle cx="467.9" cy="670.9" r="1.21" fill="#040404"/>
<circle cx="425.4" cy="741.6" r="1.05" fill="#090909"/>
<circle cx="479.4" cy="765.3" r="2.29" fill="#040404"/>
<circle cx="455.3" cy="704.6" r="1.00" fill="#030303"/>
<circle cx="424.8" cy="770.3" r="1.40" fill="#060606"/>
<circle cx="447.5" cy="695.2" r="2.06" fill="#080808"/>
<circle cx="497.6" cy="730.8" r="1.55" fill="#0e0e0e"/>
<circle cx="427.1" cy="743.5" r="1.21" fill="#040404"/>
<circle cx="417.4" cy="731.8" r="1.87" fill="#090909"/>
<circle cx="455.7" cy="673.9" r="1.00" fill="#070707"/>
<circle cx="493.6" cy="727.1" r="1.80" fill="#030303"/>
<circle cx="452.1" cy="678.1" r="1.01" fill="#090909"/>
<circle cx="471.6" cy="724.2" r="1.02" fill="#020202"/>
<circle cx="499.6" cy="707.3" r="2.04" fill="#0d0d0d"/>
<circle cx="417.1" cy="754.8" r="1.36" fill="#050505"/>
<circle cx="399.2" cy="720.9" r="1.00" fill="#0b0b0b"/>
<circle cx="415.1" cy="768.7" r="1.90" fill="#0f0f0f"/>
<circle cx="468.8" cy="747.0" r="1.00" fill="#101010"/>
<circle cx="431.6" cy="697.9" r="1.29" fill="#0f0f0f"/>
<circle cx="441.5" cy="674.6" r="1.00" fill="#010101"/>
<circle cx="497.8" cy="724.6" r="2.06" fill="#040404"/>
<circle cx="454.7" cy="696.8" r="1.12" fill="#040404"/>
<circle cx="487.9" cy="758.1" r="1.97" fill="#020202"/>
<circle cx="437.8" cy="727.8" r="1.23" fill="#010101"/>
<circle cx="409.3" cy="745.7" r="1.43" fill="#050505"/>
<circle cx="449.6" cy="756.1" r="1.16" fill="#0d0d0d"/>
<circle cx="453.0" cy="665.5" r="1.15" fill="#000000"/>
<circle cx="435.0" cy="760.6" r="1.01" fill="#0e0e0e"/>
<circle cx="456.4" cy="666.9" r="1.01" fill="#050505"/>
<circle cx="476.9" cy="679.5" r="1.00" fill="#010101"/>
<circle cx="394.0" cy="729.7" r="1.00" fill="#0a0a0a"/>
<circle cx="482.2" cy="676.7" r="1.17" fill="#020202"/>
<circle cx="424.9" cy="754.6" r="1.00" fill="#0c0c0c"/>
<circle cx="461.1" cy="770.4" r="1.08" fill="#010101"/>
<circle cx="448.9" cy="780.7" r="1.22" fill="#070707"/>
<circle cx="415.7" cy="767.7" r="1.02" fill="#050505"/>
<circle cx="446.9" cy="747.8" r="1.00" fill="#050505"/>
<circle cx="452.8" cy="711.2" r="1.43" fill="#040404"/>
<circle cx="427.9" cy="778.0" r="2.08" fill="#050505"/>
<circle cx="454.1" cy="739.7" r="1.07" fill="#030303"/>
<circle cx="420.0" cy="725.0" r="1.01" fill="#0d0d0d"/>
<circle cx="441.4" cy="727.3" r="1.69" fill="#020202"/>
<circle cx="464.8" cy="706.2" r="1.46" fill="#0d0d0d"/>
<circle cx="454.5" cy="695.5" r="1.00" fill="#080808"/>
<circle cx="498.8" cy="756.0" r="1.09" fill="#090909"/>
<circle cx="433.5" cy="764.9" r="1.24" fill="#040404"/>
<circle cx="428.7" cy="714.5" r="1.16" fill="#0f0f0f"/>
<circle cx="441.7" cy="747.2" r="1.98" fill="#0a0a0a"/>
<circle cx="466.0" cy="751.5" r="1.00" fill="#0a0a0a"/>
<circle cx="417.9" cy="772.1" r="1.81" fill="#0d0d0d"/>
<circle cx="488.7" cy="680.4" r="1.00" fill="#020202"/>
<circle cx="404.6" cy="732.6" r="1.07" fill="#090909"/>
<circle cx="468.7" cy="775.6" r="1.64" fill="#101010"/>
<circle cx="495.6" cy="727.0" r="1.00" fill="#080808"/>
<circle cx="402.3" cy="700.4" r="1.01" fill="#050505"/>
<circle cx="452.9" cy="726.8" r="1.94" fill="#070707"/>
<circle cx="466.4" cy="699.3" r="1.09" fill="#020202"/>
<circle cx="415.5" cy="754.3" r="1.01" fill="#0c0c0c"/>
<circle cx="503.6" cy="725.1" r="1.01" fill="#0f0f0f"/>
<circle cx="500.8" cy="690.2" r="1.73" fill="#060606"/>
<circle cx="419.7" cy="740.9" r="1.18" fill="#080808"/>
<circle cx="428.6" cy="761.7" r="1.11" fill="#000000"/>
<circle cx="439.3" cy="760.3" r="1.21" fill="#0a0a0a"/>
<circle cx="495.9" cy="753.1" r="1.00" fill="#030303"/>
<circle cx="464.7" cy="690.5" r="1.00" fill="#101010"/>
<circle cx="469.9" cy="774.5" r="1.01" fill="#0b0b0b"/>
<circle cx="505.1" cy="743.0" r="1.14" fill="#0c0c0c"/>
<circle cx="467.8" cy="708.6" r="1.11" fill="#0d0d0d"/>
<circle cx="485.7" cy="770.4" r="1.22" fill="#000000"/>
<circle cx="462.0" cy="745.6" r="1.90" fill="#010101"/>
<circle cx="465.7" cy="692.6" r="1.06" fill="#090909"/>
<circle cx="408.1" cy="746.1" r="1.03" fill="#030303"/>
<circle cx="403.9" cy="726.6" r="1.08" fill="#0d0d0d"/>
<circle cx="456.0" cy="715.8" r="1.25" fill="#0e0e0e"/>
</g><g filter="url(#bl)">
<circle cx="418.8" cy="711.0" r="3.00" fill="#000"/>
<circle cx="426.5" cy="731.6" r="3.00" fill="#000"/>
<circle cx="409.7" cy="734.0" r="2.60" fill="#000"/>
<circle cx="406.0" cy="694.0" r="2.50" fill="#000"/>
<circle cx="396.7" cy="707.0" r="2.00" fill="#000"/>
<circle cx="448.6" cy="682.0" r="2.30" fill="#000"/>
<circle cx="473.0" cy="696.5" r="2.30" fill="#000"/>
<circle cx="461.6" cy="747.0" r="2.80" fill="#000"/>
<circle cx="503.0" cy="737.0" r="2.60" fill="#000"/>
<circle cx="483.7" cy="755.0" r="2.60" fill="#000"/>
<circle cx="504.5" cy="696.5" r="2.30" fill="#000"/>
<circle cx="470.7" cy="737.0" r="2.00" fill="#000"/>
<circle cx="447.3" cy="695.0" r="1.80" fill="#000"/>
<circle cx="426.5" cy="681.0" r="1.60" fill="#000"/>
<circle cx="463.0" cy="678.4" r="1.60" fill="#000"/>
<circle cx="483.7" cy="681.0" r="1.60" fill="#000"/>
<circle cx="455.0" cy="725.0" r="1.60" fill="#000"/>
</g>
<circle cx="452.5" cy="724.5" r="62.4" fill="none" stroke="#707070" stroke-width="1.4" filter="url(#bl2)" opacity="0.55"/>
</g>
</g>
</svg></body></html>
